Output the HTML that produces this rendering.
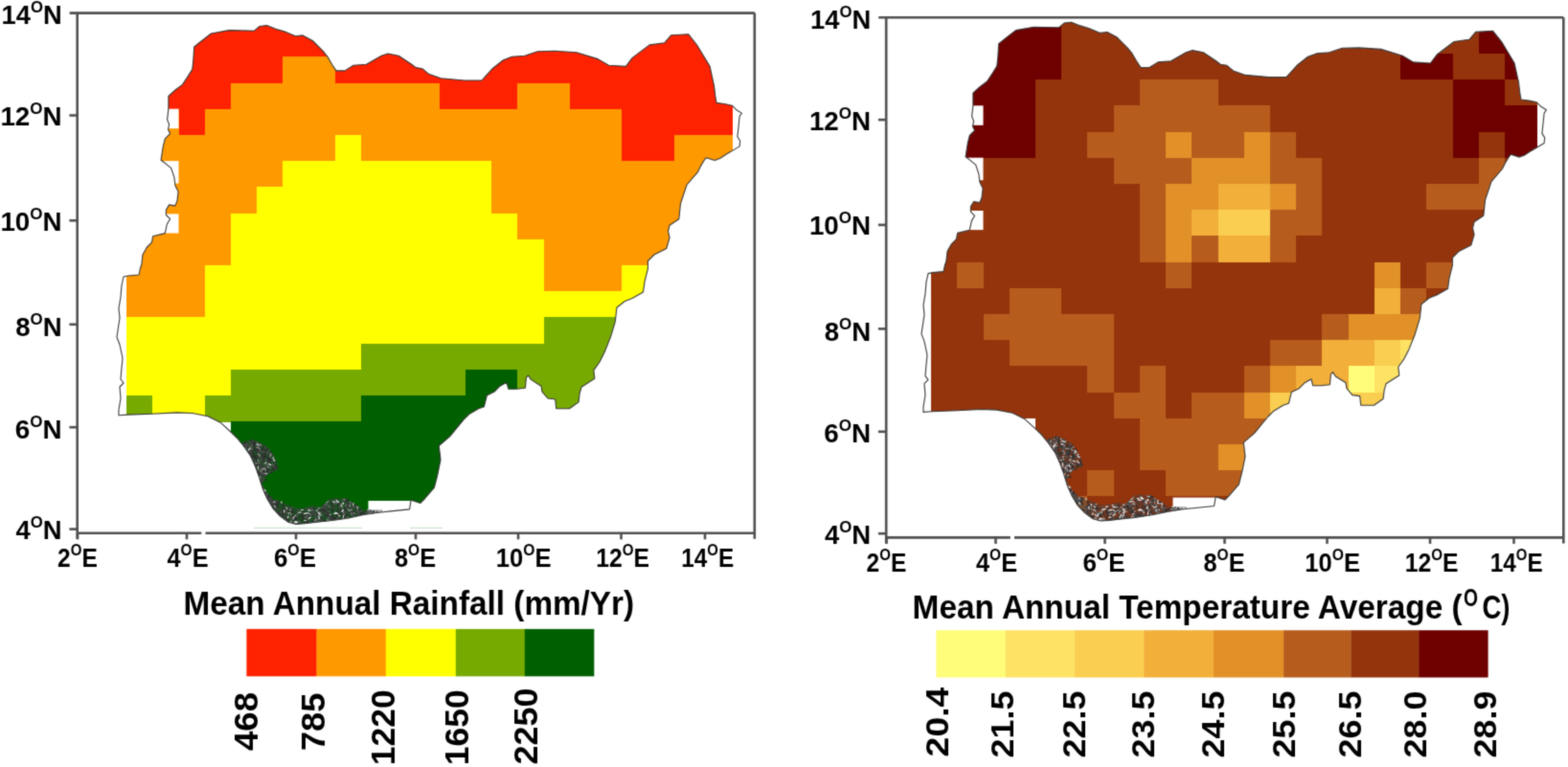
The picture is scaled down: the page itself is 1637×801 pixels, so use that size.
<!DOCTYPE html>
<html><head><meta charset="utf-8"><title>Nigeria rainfall and temperature maps</title>
<style>html,body{margin:0;padding:0;background:#fff;}svg{display:block;}</style>
</head><body>
<svg width="1637" height="801" viewBox="0 0 1637 801">
<filter id="soft" x="0" y="0" width="1637" height="801" filterUnits="userSpaceOnUse" color-interpolation-filters="sRGB"><feConvolveMatrix order="3" kernelMatrix="0.0277 0.1110 0.0277 0.1110 0.4452 0.1110 0.0277 0.1110 0.0277" edgeMode="duplicate" preserveAlpha="true"/></filter>
<g filter="url(#soft)"><rect width="1637" height="801" fill="#fff"/>
<defs><clipPath id="clipN"><polygon points="124,433.8 124,428 126,416 125,404 129,400 126,396 127,384 128,374 125,360 122,352 125,332 124,322 126,310 127,298 129,289 134,288 145,287 146.5,280 147.9,276 149,265.9 153.2,258.5 158.5,253.1 159.6,246.8 172.3,243.6 174.4,234 177.6,228.7 173.4,224.5 173.4,219.2 176.6,213.9 182.9,214.9 185,209.6 186.1,200.1 182.9,193.7 181.9,185.2 178.7,175.6 172.3,170.3 168.1,167.2 170.2,153.4 172.3,144.9 177.6,139.6 175.5,135.3 176.6,130 174.6,124.9 175.9,113.6 175.9,100.5 183,94 190.5,88.4 196.1,79.9 200.8,72.4 201.8,63.1 202.7,49 212.1,41.5 220.5,35 239.2,31.6 265.4,32.2 271,27.5 278.5,26.6 287.9,30.3 297.3,33.1 308.5,37.8 316,36.9 326.3,42.5 337.5,53.7 342,59.3 346.5,67.2 351,73.9 360,73.9 369,68.3 382.5,67.2 398.2,58.2 405,56 416.2,58.2 429.7,67.2 434.2,70.6 440.9,71.7 447.6,77.3 460.2,81.8 484.9,84 502.9,84 514.1,71.7 525.4,62.7 534.4,59.3 547.8,58.2 561.3,53.7 579.3,53.3 601.8,54.8 624.2,61.6 635.5,68.3 653.4,69.4 660.2,60.4 678.1,46.9 693.9,44.7 700.6,36.8 718.6,35.7 727.6,47 741.1,69.4 745.5,89.6 746.9,101.2 748,107.4 756.4,108.5 764.3,110.2 768.8,114.7 774.4,118.1 772.1,121.5 771,132.7 769.9,142.8 772.7,147.3 772.1,152.9 765.4,156.9 758.7,160.8 751.9,165.3 746.3,167.5 737.3,164.7 735.1,167.5 731.7,173.1 728.3,179.9 717,193 710.5,212.5 708.8,228.7 699.1,235.2 697.5,241.7 699.1,248.2 695.8,259.5 682.9,266 676.4,272.5 676.4,280.6 673.1,293.6 671.5,305 660.1,311.5 652,314.7 643.9,321.2 642.3,335.8 637.4,352.1 630.9,368.3 626,378 619.8,386.6 620.8,395.4 607,404.2 605.1,411 604.1,419.9 594.4,426.7 580.7,426.7 579.7,417 571.9,416 566,409.1 565,403.2 554.3,396.4 551.4,392 549.4,394.4 548.4,405.2 538.7,406.2 530.8,406.2 528.9,399.3 522,403.2 516.2,409.1 508.3,413 505.4,424.7 499.6,426.7 489.8,432.6 483.9,438.4 469.6,455.8 458.3,465.5 460,480.1 456.7,496.3 453.4,509.2 443.7,520.5 438.9,525.4 429.2,522.2 427.5,531.9 410,533.6 395.2,535.2 380,537.5 362.8,541.2 345,543.8 330.4,545.3 318,546.8 309,547.4 301,545.2 292.5,539 285,531 279,521 274.5,511 270.5,498 266.5,487 261.5,476 254.5,466 247.5,457.5 241.4,451.5 230.1,441.2 217.1,434.7 200.9,431.5 184.7,430.9 158.8,432.2 133,433.1"/></clipPath></defs>
<g><g clip-path="url(#clipN)">
<g shape-rendering="crispEdges"><rect x="132.1" y="4.9" width="633.1" height="27.6" fill="#ff2200"/>
<rect x="132.1" y="32.1" width="633.1" height="27.6" fill="#ff2200"/>
<rect x="132.1" y="59.3" width="163.7" height="27.6" fill="#ff2200"/>
<rect x="295.4" y="59.3" width="54.8" height="27.6" fill="#ff9900"/>
<rect x="349.8" y="59.3" width="415.4" height="27.6" fill="#ff2200"/>
<rect x="132.1" y="86.5" width="109.3" height="27.6" fill="#ff2200"/>
<rect x="240.9" y="86.5" width="218.2" height="27.6" fill="#ff9900"/>
<rect x="458.7" y="86.5" width="82.1" height="27.6" fill="#ff2200"/>
<rect x="540.4" y="86.5" width="54.8" height="27.6" fill="#ff9900"/>
<rect x="594.8" y="86.5" width="170.4" height="27.6" fill="#ff2200"/>
<rect x="132.1" y="113.7" width="54.8" height="27.6" fill="#ff9900"/>
<rect x="186.5" y="113.7" width="27.6" height="27.6" fill="#ff2200"/>
<rect x="213.7" y="113.7" width="435.9" height="27.6" fill="#ff9900"/>
<rect x="649.2" y="113.7" width="116" height="27.6" fill="#ff2200"/>
<rect x="132.1" y="140.9" width="218.2" height="27.6" fill="#ff9900"/>
<rect x="349.8" y="140.9" width="27.6" height="27.6" fill="#ffff00"/>
<rect x="377" y="140.9" width="272.6" height="27.6" fill="#ff9900"/>
<rect x="649.2" y="140.9" width="54.8" height="27.6" fill="#ff2200"/>
<rect x="703.7" y="140.9" width="61.5" height="27.6" fill="#ff9900"/>
<rect x="132.1" y="168.1" width="163.7" height="27.6" fill="#ff9900"/>
<rect x="295.4" y="168.1" width="218.2" height="27.6" fill="#ffff00"/>
<rect x="513.1" y="168.1" width="252.1" height="27.6" fill="#ff9900"/>
<rect x="132.1" y="195.3" width="136.5" height="27.6" fill="#ff9900"/>
<rect x="268.2" y="195.3" width="245.4" height="27.6" fill="#ffff00"/>
<rect x="513.1" y="195.3" width="252.1" height="27.6" fill="#ff9900"/>
<rect x="132.1" y="222.5" width="109.3" height="27.6" fill="#ff9900"/>
<rect x="240.9" y="222.5" width="299.8" height="27.6" fill="#ffff00"/>
<rect x="540.4" y="222.5" width="224.8" height="27.6" fill="#ff9900"/>
<rect x="132.1" y="249.7" width="109.3" height="27.6" fill="#ff9900"/>
<rect x="240.9" y="249.7" width="327" height="27.6" fill="#ffff00"/>
<rect x="567.6" y="249.7" width="197.6" height="27.6" fill="#ff9900"/>
<rect x="132.1" y="276.9" width="82.1" height="27.6" fill="#ff9900"/>
<rect x="213.7" y="276.9" width="354.3" height="27.6" fill="#ffff00"/>
<rect x="567.6" y="276.9" width="82.1" height="27.6" fill="#ff9900"/>
<rect x="649.2" y="276.9" width="116" height="27.6" fill="#ffff00"/>
<rect x="132.1" y="304.1" width="82.1" height="27.6" fill="#ff9900"/>
<rect x="213.7" y="304.1" width="551.5" height="27.6" fill="#ffff00"/>
<rect x="132.1" y="331.3" width="435.9" height="27.6" fill="#ffff00"/>
<rect x="567.6" y="331.3" width="197.6" height="27.6" fill="#77aa00"/>
<rect x="132.1" y="358.5" width="245.4" height="27.6" fill="#ffff00"/>
<rect x="377" y="358.5" width="388.2" height="27.6" fill="#77aa00"/>
<rect x="132.1" y="385.7" width="109.3" height="27.6" fill="#ffff00"/>
<rect x="240.9" y="385.7" width="245.4" height="27.6" fill="#77aa00"/>
<rect x="485.9" y="385.7" width="54.8" height="27.6" fill="#006000"/>
<rect x="540.4" y="385.7" width="224.8" height="27.6" fill="#77aa00"/>
<rect x="132.1" y="412.9" width="27.6" height="27.6" fill="#77aa00"/>
<rect x="159.3" y="412.9" width="54.8" height="27.6" fill="#ffff00"/>
<rect x="213.7" y="412.9" width="163.7" height="27.6" fill="#77aa00"/>
<rect x="377" y="412.9" width="163.7" height="27.6" fill="#006000"/>
<rect x="540.4" y="412.9" width="224.8" height="27.6" fill="#77aa00"/>
<rect x="240.9" y="440.1" width="524.3" height="27.6" fill="#006000"/>
<rect x="240.9" y="467.3" width="524.3" height="27.6" fill="#006000"/>
<rect x="240.9" y="494.5" width="524.3" height="27.6" fill="#006000"/>
<rect x="240.9" y="521.7" width="524.3" height="27.6" fill="#006000"/></g>
<rect x="159.3" y="113.7" width="27.2" height="20.5" fill="#fff"/>
<rect x="159.3" y="168.1" width="27.2" height="23.5" fill="#fff"/>
<rect x="159.3" y="223.4" width="27.2" height="20.1" fill="#fff"/>
<rect x="384.5" y="523" width="44.5" height="20" fill="#fff"/>
<g><polygon points="254,461 264.5,458.5 279.4,466.5 287,477 289.5,488 285.4,493.5 278,496 275.5,504 271,504 266,490 259,477 252,465" fill="#3b3f44" fill-opacity="0.55"/><polygon points="270,498 276,510 283,521 290,526 286,530 279,522 273,511" fill="#3b3f44" fill-opacity="0.55"/><polygon points="276,512 285,521 293,523.5 305,529.5 314,531 326,528 335,529.5 344,520.5 362,520.5 371,526.5 380,532.5 399,532.5 399,537 370,542 340,545.5 311,548 300,546 288,536 280,525" fill="#3b3f44" fill-opacity="0.55"/></g><g stroke-width="1.2" stroke-linecap="round"><line x1="264.1" y1="465.4" x2="263.6" y2="466.4" stroke="#404040"/><line x1="265.7" y1="461.1" x2="265.7" y2="462.2" stroke="#404040"/><line x1="254.6" y1="462.6" x2="255.3" y2="465.6" stroke="#262626"/><line x1="287.5" y1="484.8" x2="288.6" y2="488" stroke="#262626"/><line x1="257.4" y1="463.9" x2="259.1" y2="466.4" stroke="#262626"/><line x1="273.8" y1="487.6" x2="274.7" y2="489.8" stroke="#262626"/><line x1="254.2" y1="467.9" x2="253.1" y2="469.6" stroke="#333333"/><line x1="274" y1="479.1" x2="275.7" y2="481.5" stroke="#5a5a5a"/><line x1="271.7" y1="498.3" x2="270.6" y2="499.6" stroke="#f0f0f0"/><line x1="277.1" y1="493.3" x2="276.3" y2="496.4" stroke="#333333"/><line x1="278.1" y1="485.5" x2="277.5" y2="487.6" stroke="#9a9a9a"/><line x1="287.4" y1="480.1" x2="286.9" y2="481.1" stroke="#5a5a5a"/><line x1="282.8" y1="471.4" x2="283.8" y2="474" stroke="#262626"/><line x1="269.3" y1="466.1" x2="270.4" y2="466.6" stroke="#5a5a5a"/><line x1="256.9" y1="469.8" x2="257.9" y2="472.8" stroke="#262626"/><line x1="268.8" y1="483.5" x2="266" y2="484.6" stroke="#9a9a9a"/><line x1="262.4" y1="477.4" x2="263.8" y2="480.3" stroke="#f0f0f0"/><line x1="257.7" y1="466.5" x2="258.8" y2="467.6" stroke="#404040"/><line x1="274.1" y1="470.5" x2="276.1" y2="470.5" stroke="#333333"/><line x1="273.2" y1="501.9" x2="271.9" y2="503.8" stroke="#4d4d4d"/><line x1="266.7" y1="476.7" x2="269.2" y2="477.5" stroke="#262626"/><line x1="254.5" y1="468" x2="256.1" y2="468.9" stroke="#262626"/><line x1="275" y1="465.3" x2="276.3" y2="466.6" stroke="#333333"/><line x1="270.1" y1="462.4" x2="271.9" y2="463" stroke="#333333"/><line x1="271.8" y1="465.2" x2="271.7" y2="466.2" stroke="#404040"/><line x1="278.1" y1="470.4" x2="278.7" y2="471.7" stroke="#5a5a5a"/><line x1="272" y1="493.9" x2="272.8" y2="495.3" stroke="#5a5a5a"/><line x1="279.7" y1="468.8" x2="279.6" y2="470.7" stroke="#262626"/><line x1="260.3" y1="468.8" x2="261.5" y2="469.7" stroke="#4d4d4d"/><line x1="270" y1="488.2" x2="269" y2="488.9" stroke="#4d4d4d"/><line x1="280.1" y1="480.3" x2="282.6" y2="481.8" stroke="#333333"/><line x1="266.8" y1="476.8" x2="264.1" y2="477.2" stroke="#262626"/><line x1="256.8" y1="465.4" x2="253.9" y2="466.3" stroke="#262626"/><line x1="276.6" y1="474.4" x2="276.4" y2="475.8" stroke="#262626"/><line x1="288.4" y1="488.1" x2="288.1" y2="491.4" stroke="#404040"/><line x1="259.9" y1="470" x2="260.9" y2="471.2" stroke="#4d4d4d"/><line x1="261.7" y1="477.6" x2="264.7" y2="478.9" stroke="#333333"/><line x1="269.2" y1="485" x2="267.2" y2="485.6" stroke="#d0d0d0"/><line x1="270.8" y1="482.7" x2="270.7" y2="483.7" stroke="#404040"/><line x1="269.8" y1="491.5" x2="269.4" y2="493.3" stroke="#404040"/><line x1="272.8" y1="494.2" x2="275.1" y2="495" stroke="#333333"/><line x1="271" y1="484.1" x2="268.6" y2="486.3" stroke="#404040"/><line x1="275" y1="481.5" x2="274.9" y2="484.2" stroke="#404040"/><line x1="272" y1="480.3" x2="269.3" y2="480.8" stroke="#d0d0d0"/><line x1="273" y1="501.4" x2="271.8" y2="502.1" stroke="#262626"/><line x1="268.6" y1="461.8" x2="269.4" y2="462.6" stroke="#4d4d4d"/><line x1="266.9" y1="480.7" x2="263.9" y2="480.8" stroke="#262626"/><line x1="268.2" y1="482" x2="268.9" y2="483.3" stroke="#333333"/><line x1="272.8" y1="478.5" x2="274.6" y2="478.6" stroke="#4d4d4d"/><line x1="262" y1="460.3" x2="260.7" y2="461.4" stroke="#262626"/><line x1="273.4" y1="490.4" x2="274.5" y2="490.7" stroke="#5a5a5a"/><line x1="267.9" y1="461.8" x2="265.4" y2="462.3" stroke="#5a5a5a"/><line x1="269" y1="473.9" x2="268.5" y2="477.2" stroke="#333333"/><line x1="260.9" y1="463.5" x2="261.9" y2="464" stroke="#333333"/><line x1="263.7" y1="472.4" x2="262.4" y2="473.6" stroke="#404040"/><line x1="258.7" y1="474.3" x2="260.3" y2="474.4" stroke="#262626"/><line x1="279.5" y1="483.6" x2="281.3" y2="484.8" stroke="#d0d0d0"/><line x1="268.2" y1="481" x2="266.5" y2="482" stroke="#404040"/><line x1="278.5" y1="487.4" x2="279.1" y2="489.2" stroke="#262626"/><line x1="256.9" y1="461.7" x2="255.7" y2="462.9" stroke="#262626"/><line x1="284.6" y1="489" x2="285.7" y2="490.3" stroke="#333333"/><line x1="269.2" y1="465.7" x2="269.5" y2="467.3" stroke="#f0f0f0"/><line x1="263.6" y1="474.7" x2="265.6" y2="474.7" stroke="#404040"/><line x1="270.9" y1="467.6" x2="270.8" y2="468.7" stroke="#333333"/><line x1="263.4" y1="469.1" x2="262.8" y2="471.3" stroke="#5a5a5a"/><line x1="276.7" y1="491.1" x2="274.8" y2="491.8" stroke="#333333"/><line x1="279.2" y1="487.8" x2="282.2" y2="488.2" stroke="#d0d0d0"/><line x1="275.5" y1="491.9" x2="274.4" y2="492.6" stroke="#404040"/><line x1="270.9" y1="496.5" x2="268.4" y2="498.3" stroke="#4d4d4d"/><line x1="285.5" y1="489.6" x2="284.6" y2="490.9" stroke="#262626"/><line x1="272.9" y1="487.1" x2="271.9" y2="489.6" stroke="#404040"/><line x1="280.1" y1="481.4" x2="279.8" y2="484" stroke="#262626"/><line x1="279.6" y1="470" x2="281.2" y2="470.4" stroke="#5a5a5a"/><line x1="266.3" y1="480.3" x2="264.8" y2="482.7" stroke="#4d4d4d"/><line x1="257.5" y1="470.1" x2="256.3" y2="471.3" stroke="#4d4d4d"/><line x1="278" y1="489.2" x2="279.4" y2="491.1" stroke="#404040"/><line x1="269.5" y1="463.9" x2="268.1" y2="464.4" stroke="#f0f0f0"/><line x1="269.2" y1="495.8" x2="267.1" y2="496" stroke="#333333"/><line x1="282.8" y1="481.6" x2="280.2" y2="482.6" stroke="#333333"/><line x1="285.7" y1="480.6" x2="286.7" y2="480.7" stroke="#404040"/><line x1="268.9" y1="472.2" x2="270.6" y2="473" stroke="#333333"/><line x1="262.9" y1="475.4" x2="264" y2="478.7" stroke="#4d4d4d"/><line x1="265.5" y1="478" x2="266.3" y2="478.8" stroke="#262626"/><line x1="262" y1="481.7" x2="263.6" y2="482.8" stroke="#f0f0f0"/><line x1="275.7" y1="500.1" x2="273.3" y2="500.5" stroke="#5a5a5a"/><line x1="268.9" y1="492.7" x2="268.2" y2="494.3" stroke="#262626"/><line x1="269.7" y1="474.1" x2="271.4" y2="476.4" stroke="#f0f0f0"/><line x1="263.3" y1="483.9" x2="263.7" y2="485.2" stroke="#262626"/><line x1="270.6" y1="468.5" x2="267.3" y2="469.5" stroke="#404040"/><line x1="257.2" y1="467.3" x2="259" y2="467.8" stroke="#262626"/><line x1="261" y1="470.3" x2="260.3" y2="473.4" stroke="#5a5a5a"/><line x1="267.5" y1="477.3" x2="267.3" y2="479.3" stroke="#333333"/><line x1="270.9" y1="487.1" x2="269.5" y2="487.8" stroke="#333333"/><line x1="261.3" y1="476.7" x2="261.9" y2="480" stroke="#9a9a9a"/><line x1="285.6" y1="480" x2="285.3" y2="481" stroke="#404040"/><line x1="261.3" y1="463.5" x2="263.4" y2="464.5" stroke="#4d4d4d"/><line x1="276.3" y1="493.3" x2="276.6" y2="495.7" stroke="#262626"/><line x1="286.5" y1="487.9" x2="287.3" y2="488.9" stroke="#333333"/><line x1="275.9" y1="490.3" x2="277" y2="490.7" stroke="#404040"/><line x1="273.9" y1="476.2" x2="275.8" y2="477.8" stroke="#262626"/><line x1="263.3" y1="479.5" x2="260.7" y2="479.8" stroke="#d0d0d0"/><line x1="269.8" y1="469.2" x2="272.3" y2="471.6" stroke="#5a5a5a"/><line x1="263.5" y1="459.5" x2="263.5" y2="462.2" stroke="#404040"/><line x1="267.8" y1="489.6" x2="270.2" y2="491.3" stroke="#5a5a5a"/><line x1="270.9" y1="467.8" x2="269.2" y2="468" stroke="#9a9a9a"/><line x1="260.7" y1="468.6" x2="259.4" y2="469.8" stroke="#f0f0f0"/><line x1="270.6" y1="467" x2="272.2" y2="468.3" stroke="#4d4d4d"/><line x1="266.8" y1="468.2" x2="265.4" y2="468.3" stroke="#262626"/><line x1="276.9" y1="475.7" x2="277.6" y2="477.4" stroke="#262626"/><line x1="259.8" y1="474.7" x2="257.2" y2="476.4" stroke="#404040"/><line x1="259.2" y1="475.1" x2="258.2" y2="475.4" stroke="#404040"/><line x1="282.4" y1="493.4" x2="283.5" y2="493.5" stroke="#262626"/><line x1="264.7" y1="470.9" x2="262.2" y2="471.2" stroke="#333333"/><line x1="278.9" y1="472.9" x2="279.5" y2="473.7" stroke="#5a5a5a"/><line x1="286.4" y1="487.3" x2="285.3" y2="487.5" stroke="#333333"/><line x1="261.4" y1="478.1" x2="261.5" y2="481.4" stroke="#262626"/><line x1="282.1" y1="492.1" x2="279.6" y2="493.7" stroke="#4d4d4d"/><line x1="264.3" y1="473" x2="265.5" y2="475.7" stroke="#262626"/><line x1="261.3" y1="461.4" x2="263.6" y2="461.7" stroke="#333333"/><line x1="255.2" y1="462.9" x2="255.2" y2="465.7" stroke="#404040"/><line x1="260.8" y1="477.5" x2="259.8" y2="480" stroke="#5a5a5a"/><line x1="283.8" y1="488.7" x2="286.6" y2="489.9" stroke="#333333"/><line x1="273.3" y1="475.5" x2="272.2" y2="476.6" stroke="#333333"/><line x1="261.2" y1="465.5" x2="258.9" y2="466.3" stroke="#333333"/><line x1="271" y1="469" x2="268.9" y2="470.5" stroke="#f0f0f0"/><line x1="263" y1="463.9" x2="265.9" y2="465.8" stroke="#4d4d4d"/><line x1="284.5" y1="478.9" x2="286.5" y2="481.1" stroke="#f0f0f0"/><line x1="275.2" y1="468.4" x2="275.8" y2="469.6" stroke="#333333"/><line x1="276.4" y1="467.8" x2="278.3" y2="467.8" stroke="#4d4d4d"/><line x1="258.9" y1="472.7" x2="261.3" y2="474.5" stroke="#404040"/><line x1="254.4" y1="463.1" x2="255.1" y2="465.4" stroke="#4d4d4d"/><line x1="255.4" y1="465.9" x2="254.3" y2="467.6" stroke="#333333"/><line x1="263.7" y1="484.3" x2="264.6" y2="486.1" stroke="#9a9a9a"/><line x1="285.8" y1="477.8" x2="284.1" y2="478.9" stroke="#d0d0d0"/><line x1="269.3" y1="465.9" x2="271.7" y2="466" stroke="#4d4d4d"/><line x1="275.3" y1="475.4" x2="275.3" y2="476.7" stroke="#333333"/><line x1="271.5" y1="500.6" x2="273.6" y2="501.4" stroke="#5a5a5a"/><line x1="275.3" y1="496" x2="277.9" y2="497.4" stroke="#333333"/><line x1="260.2" y1="476.7" x2="260.1" y2="478.6" stroke="#262626"/><line x1="273.1" y1="493" x2="276.2" y2="493.3" stroke="#262626"/><line x1="274.5" y1="483.5" x2="273.8" y2="485.2" stroke="#404040"/><line x1="273.8" y1="477.9" x2="272.8" y2="479.7" stroke="#404040"/><line x1="270.4" y1="469.2" x2="268.2" y2="471.2" stroke="#404040"/><line x1="256" y1="464.3" x2="256.3" y2="465.5" stroke="#404040"/><line x1="279.5" y1="493.9" x2="279.5" y2="495" stroke="#404040"/><line x1="261.9" y1="481.5" x2="262.4" y2="482.4" stroke="#262626"/><line x1="275.9" y1="474.9" x2="273.7" y2="475.8" stroke="#4d4d4d"/><line x1="289.2" y1="487.2" x2="290.2" y2="490" stroke="#333333"/><line x1="268.6" y1="466.5" x2="267.8" y2="467.4" stroke="#9a9a9a"/><line x1="276.9" y1="472.7" x2="278" y2="472.7" stroke="#262626"/><line x1="275.1" y1="478.2" x2="275" y2="481.4" stroke="#262626"/><line x1="265.3" y1="463.3" x2="266" y2="464.7" stroke="#4d4d4d"/><line x1="274.1" y1="467.8" x2="273.3" y2="469.8" stroke="#262626"/><line x1="257.6" y1="462.9" x2="256.3" y2="465.7" stroke="#5a5a5a"/><line x1="267.1" y1="470.5" x2="269.7" y2="470.6" stroke="#404040"/><line x1="265.1" y1="487.9" x2="265.7" y2="491.2" stroke="#5a5a5a"/><line x1="267.2" y1="469.3" x2="270.1" y2="469.9" stroke="#262626"/><line x1="272.7" y1="501.3" x2="274" y2="502" stroke="#4d4d4d"/><line x1="271" y1="487.7" x2="269.8" y2="488.5" stroke="#333333"/><line x1="263.3" y1="460.7" x2="260.5" y2="461.7" stroke="#5a5a5a"/><line x1="279.9" y1="479.7" x2="278.5" y2="481.2" stroke="#333333"/><line x1="255.9" y1="469.1" x2="257.8" y2="469.3" stroke="#5a5a5a"/><line x1="278.7" y1="470.6" x2="278.3" y2="472.7" stroke="#5a5a5a"/><line x1="271.6" y1="470.6" x2="270.1" y2="473.6" stroke="#333333"/><line x1="261.8" y1="469.2" x2="259.4" y2="471.7" stroke="#5a5a5a"/><line x1="264.3" y1="469.4" x2="261.9" y2="470.1" stroke="#5a5a5a"/><line x1="269.6" y1="496.7" x2="267.8" y2="499.3" stroke="#404040"/><line x1="279.2" y1="484.5" x2="280" y2="485.7" stroke="#4d4d4d"/><line x1="264.9" y1="465" x2="266" y2="465.1" stroke="#5a5a5a"/><line x1="275.8" y1="490.2" x2="275" y2="491.1" stroke="#4d4d4d"/><line x1="256" y1="467.9" x2="257" y2="468.2" stroke="#9a9a9a"/><line x1="282.5" y1="487.4" x2="280.3" y2="488.7" stroke="#333333"/><line x1="255.7" y1="463" x2="254.7" y2="464" stroke="#333333"/><line x1="261.6" y1="471.4" x2="260.4" y2="472.9" stroke="#333333"/><line x1="283.9" y1="486.6" x2="285.9" y2="486.8" stroke="#404040"/><line x1="281" y1="474.3" x2="279.6" y2="476.2" stroke="#333333"/><line x1="270.4" y1="494.8" x2="272.3" y2="496" stroke="#333333"/><line x1="270.7" y1="463.5" x2="270.2" y2="464.6" stroke="#5a5a5a"/><line x1="278.1" y1="494.3" x2="277.4" y2="496" stroke="#404040"/><line x1="270.8" y1="475.8" x2="269.3" y2="476.3" stroke="#404040"/><line x1="271.9" y1="492.8" x2="270.1" y2="494.7" stroke="#333333"/><line x1="264.2" y1="465.6" x2="261.9" y2="466.8" stroke="#5a5a5a"/><line x1="281" y1="484.9" x2="283" y2="485.7" stroke="#d0d0d0"/><line x1="260.9" y1="467.2" x2="262.5" y2="469.5" stroke="#9a9a9a"/><line x1="257.8" y1="465.6" x2="259.1" y2="466.9" stroke="#404040"/><line x1="258" y1="473.4" x2="260.9" y2="475.4" stroke="#5a5a5a"/><line x1="279.5" y1="478.3" x2="281.6" y2="479.8" stroke="#262626"/><line x1="259.7" y1="476.2" x2="261.7" y2="476.4" stroke="#5a5a5a"/><line x1="278" y1="481.3" x2="277.1" y2="483.2" stroke="#262626"/><line x1="274.6" y1="476.9" x2="272.4" y2="479.3" stroke="#404040"/><line x1="273.5" y1="492.6" x2="273.9" y2="494.1" stroke="#5a5a5a"/><line x1="277.5" y1="487.7" x2="277.7" y2="489.5" stroke="#4d4d4d"/><line x1="281.3" y1="490.9" x2="280.7" y2="492.4" stroke="#404040"/><line x1="269.1" y1="486.8" x2="269.8" y2="489.4" stroke="#d0d0d0"/><line x1="281.2" y1="476.2" x2="281.3" y2="479.6" stroke="#262626"/><line x1="272.4" y1="465.8" x2="269.8" y2="467.9" stroke="#404040"/><line x1="272.3" y1="491.1" x2="272.2" y2="493.7" stroke="#9a9a9a"/><line x1="271.6" y1="477.2" x2="270.1" y2="477.4" stroke="#4d4d4d"/><line x1="265.3" y1="461.1" x2="266.6" y2="462.6" stroke="#262626"/><line x1="267.7" y1="477.6" x2="266.6" y2="479.2" stroke="#333333"/><line x1="287.2" y1="482.5" x2="289.6" y2="484.4" stroke="#404040"/><line x1="260" y1="464.4" x2="257.6" y2="466.3" stroke="#4d4d4d"/><line x1="269.6" y1="484.1" x2="272.2" y2="486.3" stroke="#333333"/><line x1="276" y1="495.8" x2="274.1" y2="496.9" stroke="#333333"/><line x1="272.6" y1="464.2" x2="270.9" y2="465.1" stroke="#9a9a9a"/><line x1="262" y1="475.6" x2="263.5" y2="477.1" stroke="#262626"/><line x1="262.5" y1="469.6" x2="263.8" y2="471.4" stroke="#404040"/><line x1="275.9" y1="488.5" x2="277.3" y2="491.5" stroke="#9a9a9a"/><line x1="276.6" y1="469.9" x2="277.9" y2="470.3" stroke="#333333"/><line x1="281.1" y1="474.3" x2="284" y2="475.8" stroke="#5a5a5a"/><line x1="274.8" y1="494" x2="273.2" y2="496.8" stroke="#5a5a5a"/><line x1="278" y1="482.7" x2="276.5" y2="484.2" stroke="#d0d0d0"/><line x1="272.8" y1="470.5" x2="273.8" y2="471.4" stroke="#404040"/><line x1="270.7" y1="483" x2="269.8" y2="483.5" stroke="#9a9a9a"/><line x1="269.5" y1="484.1" x2="268" y2="486.8" stroke="#333333"/><line x1="274.9" y1="489.6" x2="273.1" y2="489.9" stroke="#f0f0f0"/><line x1="271.1" y1="480.6" x2="270.1" y2="480.9" stroke="#5a5a5a"/><line x1="275.4" y1="473.9" x2="273.7" y2="474.7" stroke="#404040"/><line x1="271.7" y1="493.6" x2="273.4" y2="494.8" stroke="#404040"/><line x1="272.8" y1="496.1" x2="274.6" y2="498.6" stroke="#404040"/><line x1="270.9" y1="470.9" x2="270.8" y2="474.3" stroke="#4d4d4d"/><line x1="281.7" y1="473.6" x2="282.6" y2="475" stroke="#4d4d4d"/><line x1="275.8" y1="494.2" x2="278.6" y2="494.5" stroke="#d0d0d0"/><line x1="274.8" y1="488.4" x2="272.2" y2="490.5" stroke="#4d4d4d"/><line x1="275.1" y1="487" x2="273.7" y2="489.1" stroke="#4d4d4d"/><line x1="269.2" y1="493.2" x2="270.6" y2="493.7" stroke="#262626"/><line x1="276.6" y1="475.3" x2="274.1" y2="476.9" stroke="#404040"/><line x1="261.7" y1="472.2" x2="262.1" y2="474" stroke="#404040"/><line x1="276.1" y1="501" x2="278.4" y2="501.4" stroke="#262626"/><line x1="273.6" y1="500.3" x2="273.7" y2="501.3" stroke="#404040"/><line x1="274.2" y1="501.2" x2="272" y2="501.3" stroke="#404040"/><line x1="260" y1="465.4" x2="261" y2="465.5" stroke="#4d4d4d"/><line x1="279" y1="469.5" x2="278" y2="470.6" stroke="#262626"/><line x1="281" y1="491" x2="278.5" y2="492.2" stroke="#262626"/><line x1="275.6" y1="490.8" x2="276" y2="494.1" stroke="#333333"/><line x1="276.4" y1="495.7" x2="278.1" y2="496.1" stroke="#5a5a5a"/><line x1="265.8" y1="484.7" x2="266.3" y2="487.3" stroke="#262626"/><line x1="281.9" y1="475" x2="280.8" y2="477.3" stroke="#404040"/><line x1="273.3" y1="471.8" x2="276.6" y2="472.5" stroke="#5a5a5a"/><line x1="283" y1="473.6" x2="281.9" y2="476.9" stroke="#9a9a9a"/><line x1="274.5" y1="472.5" x2="275.3" y2="475.7" stroke="#404040"/><line x1="277.7" y1="485.9" x2="274.8" y2="486.8" stroke="#333333"/><line x1="267.8" y1="485.2" x2="265.1" y2="487" stroke="#262626"/><line x1="284.5" y1="484.5" x2="286.6" y2="486.9" stroke="#5a5a5a"/><line x1="265" y1="462.4" x2="264.5" y2="465.3" stroke="#333333"/><line x1="277.4" y1="479.7" x2="278.7" y2="480.7" stroke="#5a5a5a"/><line x1="281.7" y1="479.4" x2="284.6" y2="480.2" stroke="#5a5a5a"/><line x1="271.6" y1="480.2" x2="271.2" y2="481.6" stroke="#333333"/><line x1="265.6" y1="484.2" x2="266.3" y2="486.4" stroke="#262626"/><line x1="266" y1="463.3" x2="264.8" y2="466" stroke="#262626"/><line x1="274.4" y1="474.2" x2="274.3" y2="475.2" stroke="#262626"/><line x1="270.2" y1="484.3" x2="272.2" y2="486.5" stroke="#404040"/><line x1="261.5" y1="460.2" x2="262.7" y2="461.1" stroke="#262626"/><line x1="284.7" y1="479.4" x2="281.4" y2="479.9" stroke="#262626"/><line x1="274.4" y1="476.6" x2="277.6" y2="477.8" stroke="#333333"/><line x1="273.2" y1="487.6" x2="270.5" y2="488" stroke="#404040"/><line x1="268.8" y1="465.8" x2="265.4" y2="466.1" stroke="#333333"/><line x1="278.6" y1="487.9" x2="277.5" y2="488" stroke="#262626"/><line x1="277.4" y1="472.1" x2="276.6" y2="474.9" stroke="#262626"/><line x1="264.1" y1="470.2" x2="266.2" y2="471" stroke="#262626"/><line x1="287.3" y1="526.4" x2="289.3" y2="527.3" stroke="#262626"/><line x1="279.6" y1="518.1" x2="281" y2="518.8" stroke="#262626"/><line x1="275.3" y1="511.2" x2="276.8" y2="512" stroke="#9a9a9a"/><line x1="274" y1="509.7" x2="270.5" y2="509.8" stroke="#d0d0d0"/><line x1="273.7" y1="511.9" x2="272.2" y2="512.3" stroke="#4d4d4d"/><line x1="272.8" y1="503.8" x2="270.7" y2="505.6" stroke="#333333"/><line x1="282.2" y1="520.6" x2="280.2" y2="522" stroke="#333333"/><line x1="273.3" y1="509.9" x2="273" y2="510.8" stroke="#404040"/><line x1="286.3" y1="525.7" x2="287.8" y2="528" stroke="#404040"/><line x1="287.5" y1="528.5" x2="287.5" y2="530.8" stroke="#404040"/><line x1="286.5" y1="528" x2="287.2" y2="529.9" stroke="#9a9a9a"/><line x1="276.7" y1="511.9" x2="273.7" y2="512.1" stroke="#d0d0d0"/><line x1="286.3" y1="525.1" x2="288.6" y2="525.5" stroke="#f0f0f0"/><line x1="278.4" y1="518.2" x2="279.4" y2="520.4" stroke="#262626"/><line x1="286.2" y1="526.3" x2="285.2" y2="526.7" stroke="#4d4d4d"/><line x1="275.5" y1="515.4" x2="273" y2="516" stroke="#333333"/><line x1="275.4" y1="512.9" x2="275.2" y2="514.3" stroke="#262626"/><line x1="272.6" y1="507.4" x2="273.1" y2="509" stroke="#333333"/><line x1="281.4" y1="518.8" x2="283.6" y2="520.5" stroke="#404040"/><line x1="287" y1="524.3" x2="286.8" y2="527.1" stroke="#5a5a5a"/><line x1="285.7" y1="525.9" x2="285" y2="527.8" stroke="#404040"/><line x1="279.2" y1="521.1" x2="280.4" y2="522.7" stroke="#404040"/><line x1="285.7" y1="525.2" x2="285.7" y2="527.3" stroke="#262626"/><line x1="286.8" y1="528.7" x2="288.4" y2="529.9" stroke="#d0d0d0"/><line x1="277.2" y1="517" x2="278.7" y2="520" stroke="#4d4d4d"/><line x1="276.9" y1="515" x2="275.7" y2="515.7" stroke="#333333"/><line x1="273.1" y1="507.3" x2="273" y2="509.5" stroke="#333333"/><line x1="281.7" y1="519.4" x2="283.6" y2="520.7" stroke="#404040"/><line x1="272.4" y1="503" x2="271.5" y2="503.9" stroke="#262626"/><line x1="277" y1="512.4" x2="277.4" y2="513.5" stroke="#d0d0d0"/><line x1="278.8" y1="517.8" x2="279.6" y2="518.6" stroke="#d0d0d0"/><line x1="274.4" y1="507.9" x2="272.4" y2="508.7" stroke="#5a5a5a"/><line x1="273.8" y1="507.1" x2="274.6" y2="507.8" stroke="#4d4d4d"/><line x1="286.7" y1="523.8" x2="288.4" y2="524.7" stroke="#5a5a5a"/><line x1="277.7" y1="519" x2="277.3" y2="520.8" stroke="#404040"/><line x1="271.7" y1="503.7" x2="270.1" y2="504.5" stroke="#4d4d4d"/><line x1="277.2" y1="514" x2="277.9" y2="514.9" stroke="#333333"/><line x1="285.5" y1="526.2" x2="284.3" y2="526.8" stroke="#333333"/><line x1="278.3" y1="519.1" x2="277.3" y2="520.4" stroke="#9a9a9a"/><line x1="277" y1="518.1" x2="278.1" y2="518.8" stroke="#d0d0d0"/><line x1="366.3" y1="537.7" x2="367.4" y2="537.8" stroke="#262626"/><line x1="314.2" y1="535" x2="316.9" y2="536.6" stroke="#4d4d4d"/><line x1="329.5" y1="536.6" x2="330" y2="537.5" stroke="#9a9a9a"/><line x1="324.4" y1="538.9" x2="323" y2="539.8" stroke="#262626"/><line x1="390.4" y1="536.9" x2="388.3" y2="539.1" stroke="#4d4d4d"/><line x1="361.9" y1="527.4" x2="361.8" y2="530.7" stroke="#262626"/><line x1="362.4" y1="541" x2="364.1" y2="542.7" stroke="#f0f0f0"/><line x1="354.4" y1="531.6" x2="355.2" y2="532.4" stroke="#333333"/><line x1="363" y1="536.1" x2="364.1" y2="537.2" stroke="#404040"/><line x1="330.7" y1="545.7" x2="331.5" y2="547.3" stroke="#d0d0d0"/><line x1="293.5" y1="532.3" x2="295" y2="534.9" stroke="#404040"/><line x1="358" y1="533.6" x2="358.3" y2="536.4" stroke="#9a9a9a"/><line x1="283.4" y1="522.1" x2="285.7" y2="523.7" stroke="#404040"/><line x1="289.9" y1="523.7" x2="290.1" y2="525.6" stroke="#262626"/><line x1="289.4" y1="529.6" x2="289.7" y2="531" stroke="#404040"/><line x1="355.3" y1="534.6" x2="352.7" y2="535.1" stroke="#333333"/><line x1="298.8" y1="535" x2="295.9" y2="536.5" stroke="#262626"/><line x1="298.7" y1="541.7" x2="299.7" y2="543.3" stroke="#404040"/><line x1="321.4" y1="541.9" x2="322.2" y2="542.7" stroke="#4d4d4d"/><line x1="353.3" y1="541.5" x2="351.3" y2="544.1" stroke="#f0f0f0"/><line x1="336.8" y1="530" x2="338.3" y2="530.8" stroke="#4d4d4d"/><line x1="296.1" y1="528" x2="294.9" y2="528.1" stroke="#262626"/><line x1="310.8" y1="535.8" x2="310.7" y2="537.9" stroke="#333333"/><line x1="330" y1="536" x2="327.2" y2="537.7" stroke="#262626"/><line x1="345.3" y1="524.5" x2="346.3" y2="525.2" stroke="#333333"/><line x1="352.2" y1="541.2" x2="354.9" y2="541.7" stroke="#4d4d4d"/><line x1="312.5" y1="532.6" x2="310.4" y2="532.9" stroke="#4d4d4d"/><line x1="299.2" y1="536.4" x2="299.4" y2="537.6" stroke="#4d4d4d"/><line x1="321.8" y1="532.9" x2="322.4" y2="535.2" stroke="#4d4d4d"/><line x1="298.2" y1="544" x2="298" y2="545.3" stroke="#9a9a9a"/><line x1="336.2" y1="531.9" x2="338" y2="533.5" stroke="#262626"/><line x1="339.1" y1="533.2" x2="341.1" y2="533.7" stroke="#262626"/><line x1="330.1" y1="543.1" x2="329.6" y2="545.8" stroke="#5a5a5a"/><line x1="345.3" y1="539.9" x2="347.9" y2="541.1" stroke="#262626"/><line x1="363" y1="527.3" x2="360.6" y2="528.2" stroke="#9a9a9a"/><line x1="369.9" y1="536.5" x2="368.8" y2="537.2" stroke="#333333"/><line x1="343.5" y1="540.9" x2="346.6" y2="542.1" stroke="#4d4d4d"/><line x1="331" y1="542.2" x2="330.6" y2="543.4" stroke="#262626"/><line x1="298.8" y1="532" x2="300.5" y2="534.1" stroke="#404040"/><line x1="342.2" y1="536.8" x2="339.4" y2="538.7" stroke="#262626"/><line x1="337.7" y1="543.4" x2="336.8" y2="544.1" stroke="#262626"/><line x1="376.7" y1="536.5" x2="377.4" y2="538.5" stroke="#262626"/><line x1="383.4" y1="534" x2="385.2" y2="534.4" stroke="#333333"/><line x1="386" y1="533.2" x2="387.4" y2="533.4" stroke="#333333"/><line x1="333.5" y1="532.8" x2="334.2" y2="534.5" stroke="#262626"/><line x1="347.2" y1="524" x2="349.4" y2="524.2" stroke="#f0f0f0"/><line x1="358.5" y1="521.8" x2="360" y2="523.5" stroke="#333333"/><line x1="346" y1="531" x2="342.5" y2="531.5" stroke="#262626"/><line x1="345" y1="539.8" x2="342.3" y2="540.9" stroke="#4d4d4d"/><line x1="354.1" y1="525.1" x2="356" y2="527.4" stroke="#9a9a9a"/><line x1="391.5" y1="536.5" x2="393.1" y2="538.9" stroke="#5a5a5a"/><line x1="338.6" y1="534.9" x2="339.7" y2="537" stroke="#404040"/><line x1="283.4" y1="524.1" x2="285.3" y2="527.1" stroke="#404040"/><line x1="330.8" y1="532.5" x2="331.6" y2="533.6" stroke="#262626"/><line x1="365.4" y1="531.8" x2="363.6" y2="532.2" stroke="#d0d0d0"/><line x1="298" y1="532.9" x2="296.1" y2="533" stroke="#5a5a5a"/><line x1="328.7" y1="543.3" x2="330.8" y2="543.7" stroke="#d0d0d0"/><line x1="278.8" y1="517.9" x2="280.7" y2="520" stroke="#333333"/><line x1="350.2" y1="543.1" x2="349.5" y2="544.4" stroke="#5a5a5a"/><line x1="394.5" y1="533.6" x2="397.4" y2="534.4" stroke="#d0d0d0"/><line x1="299.1" y1="531.3" x2="296.7" y2="532.3" stroke="#d0d0d0"/><line x1="368.2" y1="535.4" x2="369" y2="537.9" stroke="#333333"/><line x1="283.1" y1="526.9" x2="285.6" y2="527.3" stroke="#333333"/><line x1="336.8" y1="533.5" x2="338.3" y2="535.1" stroke="#262626"/><line x1="351.5" y1="538.1" x2="352.1" y2="539.1" stroke="#262626"/><line x1="293.5" y1="539.6" x2="296.5" y2="540.5" stroke="#404040"/><line x1="342.3" y1="533.2" x2="341.8" y2="535.8" stroke="#4d4d4d"/><line x1="316.7" y1="538.7" x2="318.6" y2="540.7" stroke="#5a5a5a"/><line x1="334.5" y1="535.6" x2="333.1" y2="536.8" stroke="#f0f0f0"/><line x1="304.1" y1="539.2" x2="305.1" y2="539.5" stroke="#262626"/><line x1="354.2" y1="524.4" x2="352.5" y2="525.7" stroke="#333333"/><line x1="355.4" y1="526.5" x2="354.3" y2="526.9" stroke="#4d4d4d"/><line x1="326.4" y1="545.1" x2="323.9" y2="545.5" stroke="#333333"/><line x1="301" y1="539.3" x2="300.2" y2="540.9" stroke="#f0f0f0"/><line x1="302.6" y1="532.5" x2="305.4" y2="534" stroke="#9a9a9a"/><line x1="308.9" y1="539.1" x2="307.4" y2="540" stroke="#333333"/><line x1="335.7" y1="544.1" x2="338.1" y2="545.4" stroke="#4d4d4d"/><line x1="331.7" y1="532.9" x2="330.3" y2="533.4" stroke="#d0d0d0"/><line x1="320.3" y1="540.1" x2="319" y2="540.7" stroke="#9a9a9a"/><line x1="279" y1="516" x2="278" y2="516.1" stroke="#d0d0d0"/><line x1="294.5" y1="538.5" x2="295.9" y2="538.9" stroke="#4d4d4d"/><line x1="287.1" y1="524.2" x2="284.4" y2="524.9" stroke="#d0d0d0"/><line x1="304.9" y1="540.5" x2="304.2" y2="541.4" stroke="#404040"/><line x1="366.8" y1="530" x2="368.6" y2="530.7" stroke="#404040"/><line x1="384.6" y1="538.3" x2="385.6" y2="539.4" stroke="#333333"/><line x1="338.6" y1="526.7" x2="338.2" y2="528.6" stroke="#262626"/><line x1="360.6" y1="535.5" x2="360.3" y2="537.9" stroke="#5a5a5a"/><line x1="364.3" y1="526.4" x2="365.4" y2="528.1" stroke="#f0f0f0"/><line x1="307.3" y1="534" x2="307.9" y2="535.5" stroke="#333333"/><line x1="315.9" y1="535.3" x2="315.6" y2="537" stroke="#f0f0f0"/><line x1="304.8" y1="534.7" x2="303.5" y2="536.1" stroke="#5a5a5a"/><line x1="324.4" y1="530.9" x2="323.5" y2="533.5" stroke="#333333"/><line x1="353.4" y1="531.6" x2="355.3" y2="533.2" stroke="#333333"/><line x1="364.8" y1="530.8" x2="364.9" y2="532.3" stroke="#262626"/><line x1="340.4" y1="531" x2="339.1" y2="531.9" stroke="#262626"/><line x1="354.8" y1="541.8" x2="351.8" y2="542.8" stroke="#262626"/><line x1="322.9" y1="542" x2="321.8" y2="542.7" stroke="#262626"/><line x1="319.9" y1="540.9" x2="319.7" y2="543" stroke="#262626"/><line x1="361.5" y1="528.2" x2="361.7" y2="531.2" stroke="#5a5a5a"/><line x1="294.4" y1="536.5" x2="295.4" y2="538.6" stroke="#333333"/><line x1="300.7" y1="532.5" x2="302.1" y2="532.8" stroke="#5a5a5a"/><line x1="305.7" y1="542" x2="308.2" y2="542.8" stroke="#9a9a9a"/><line x1="373.5" y1="534.2" x2="373.9" y2="535.3" stroke="#404040"/><line x1="321.2" y1="537.7" x2="322.4" y2="539.3" stroke="#4d4d4d"/><line x1="323.4" y1="532.8" x2="322" y2="533.2" stroke="#f0f0f0"/><line x1="363.6" y1="525.4" x2="362.7" y2="527" stroke="#262626"/><line x1="369" y1="525.7" x2="368.8" y2="527.9" stroke="#d0d0d0"/><line x1="348.9" y1="528.7" x2="349.3" y2="531.7" stroke="#404040"/><line x1="334.3" y1="544.1" x2="334.7" y2="546.2" stroke="#404040"/><line x1="377.4" y1="536.1" x2="376.1" y2="537.6" stroke="#262626"/><line x1="359.6" y1="531.9" x2="357.4" y2="533.9" stroke="#262626"/><line x1="359.8" y1="537.6" x2="359.8" y2="538.7" stroke="#5a5a5a"/><line x1="327.4" y1="533" x2="324.4" y2="533" stroke="#9a9a9a"/><line x1="293.9" y1="524" x2="293.8" y2="525" stroke="#f0f0f0"/><line x1="338.9" y1="527.1" x2="340.6" y2="527.4" stroke="#9a9a9a"/><line x1="336.1" y1="533" x2="337.4" y2="535.8" stroke="#333333"/><line x1="282.3" y1="523.3" x2="282.1" y2="525.3" stroke="#4d4d4d"/><line x1="363.4" y1="540.9" x2="362.8" y2="542.9" stroke="#d0d0d0"/><line x1="330.7" y1="543.6" x2="332.8" y2="544" stroke="#4d4d4d"/><line x1="345" y1="540.8" x2="345" y2="543.5" stroke="#4d4d4d"/><line x1="327" y1="535.7" x2="329.3" y2="538.1" stroke="#4d4d4d"/><line x1="304.6" y1="533" x2="305.9" y2="535" stroke="#262626"/><line x1="322.7" y1="535.1" x2="324.5" y2="536.6" stroke="#262626"/><line x1="333.1" y1="538.2" x2="333.7" y2="540.8" stroke="#262626"/><line x1="368.3" y1="529.9" x2="367.1" y2="530.1" stroke="#404040"/><line x1="382.3" y1="533.5" x2="382.1" y2="534.7" stroke="#262626"/><line x1="309.4" y1="544.2" x2="308" y2="544.9" stroke="#d0d0d0"/><line x1="392.2" y1="535.6" x2="394" y2="535.9" stroke="#404040"/><line x1="306.4" y1="538.7" x2="308.9" y2="540.3" stroke="#333333"/><line x1="287.8" y1="531.9" x2="285.8" y2="533.4" stroke="#404040"/><line x1="288" y1="535.3" x2="290.2" y2="536.3" stroke="#333333"/><line x1="322.1" y1="535.9" x2="323.3" y2="536.6" stroke="#f0f0f0"/><line x1="316.8" y1="542.3" x2="314.8" y2="543.2" stroke="#262626"/><line x1="290.4" y1="529.9" x2="290.3" y2="531.1" stroke="#404040"/><line x1="296.2" y1="531.3" x2="296.1" y2="533.2" stroke="#333333"/><line x1="373.3" y1="532.5" x2="372.4" y2="533.8" stroke="#5a5a5a"/><line x1="349.2" y1="540.2" x2="348.5" y2="541.1" stroke="#333333"/><line x1="361.1" y1="541.3" x2="362.5" y2="544" stroke="#404040"/><line x1="306.1" y1="538.4" x2="305.4" y2="539.6" stroke="#333333"/><line x1="373.4" y1="529.3" x2="373.4" y2="532.2" stroke="#d0d0d0"/><line x1="368.4" y1="534.9" x2="370.5" y2="536.4" stroke="#9a9a9a"/><line x1="364.2" y1="524.6" x2="367.2" y2="526.2" stroke="#4d4d4d"/><line x1="387.3" y1="538.8" x2="384.7" y2="540.3" stroke="#4d4d4d"/><line x1="329.5" y1="541.7" x2="327.1" y2="543.7" stroke="#333333"/><line x1="307" y1="542.2" x2="308.1" y2="543.2" stroke="#404040"/><line x1="305.1" y1="529.7" x2="302.5" y2="530.5" stroke="#5a5a5a"/><line x1="324.2" y1="540.2" x2="322.1" y2="541.9" stroke="#f0f0f0"/><line x1="349.2" y1="542.1" x2="348.4" y2="542.7" stroke="#404040"/><line x1="278" y1="516" x2="276.3" y2="517.1" stroke="#4d4d4d"/><line x1="379.9" y1="534.3" x2="380.6" y2="535.3" stroke="#333333"/><line x1="362.2" y1="527.9" x2="360.8" y2="530.6" stroke="#262626"/><line x1="309.4" y1="546.5" x2="310" y2="547.9" stroke="#d0d0d0"/><line x1="351.1" y1="544.2" x2="351.8" y2="546.3" stroke="#f0f0f0"/><line x1="299.3" y1="541.9" x2="301.3" y2="543" stroke="#262626"/><line x1="331.9" y1="541.1" x2="333.2" y2="542.5" stroke="#262626"/><line x1="344" y1="543" x2="343.9" y2="545" stroke="#d0d0d0"/><line x1="385.9" y1="536" x2="388.4" y2="536.6" stroke="#404040"/><line x1="357.3" y1="534.7" x2="358.2" y2="536.9" stroke="#4d4d4d"/><line x1="320.7" y1="547.1" x2="323.8" y2="547.7" stroke="#4d4d4d"/><line x1="344.6" y1="528.1" x2="342.3" y2="530.4" stroke="#5a5a5a"/><line x1="293.8" y1="533.2" x2="293.5" y2="534.2" stroke="#404040"/><line x1="367.9" y1="535.1" x2="369.8" y2="537.3" stroke="#333333"/><line x1="342.9" y1="527.1" x2="340.3" y2="527.3" stroke="#5a5a5a"/><line x1="359.2" y1="525.7" x2="356.5" y2="526" stroke="#5a5a5a"/><line x1="346.7" y1="541.7" x2="345.3" y2="542.9" stroke="#262626"/><line x1="339.5" y1="543.6" x2="342" y2="545" stroke="#262626"/><line x1="301.1" y1="544.7" x2="301.6" y2="547.8" stroke="#4d4d4d"/><line x1="294.7" y1="539.3" x2="294.9" y2="541.6" stroke="#4d4d4d"/><line x1="320.6" y1="545" x2="320.5" y2="546.7" stroke="#4d4d4d"/><line x1="307.9" y1="539.8" x2="311" y2="540.2" stroke="#4d4d4d"/><line x1="319.5" y1="545.8" x2="320.6" y2="547" stroke="#262626"/><line x1="343.5" y1="539.1" x2="342.4" y2="540.9" stroke="#5a5a5a"/><line x1="289.7" y1="523.1" x2="288.2" y2="526.1" stroke="#4d4d4d"/><line x1="361.1" y1="539.9" x2="362.2" y2="543.1" stroke="#5a5a5a"/><line x1="298.8" y1="543.4" x2="298.6" y2="545.7" stroke="#4d4d4d"/><line x1="326.8" y1="530.1" x2="324.4" y2="531.3" stroke="#4d4d4d"/><line x1="325.7" y1="532.7" x2="327.7" y2="535" stroke="#5a5a5a"/><line x1="358.6" y1="539.1" x2="358.6" y2="542.4" stroke="#d0d0d0"/><line x1="367.4" y1="541.6" x2="365.9" y2="544.4" stroke="#262626"/><line x1="362.6" y1="537.3" x2="362" y2="538.9" stroke="#262626"/><line x1="350.2" y1="541.7" x2="351.2" y2="542.8" stroke="#333333"/><line x1="320.2" y1="537.2" x2="323.3" y2="537.9" stroke="#333333"/><line x1="283.3" y1="528" x2="282.8" y2="531" stroke="#262626"/><line x1="303.6" y1="534.7" x2="304.5" y2="536.3" stroke="#4d4d4d"/><line x1="302.8" y1="540.6" x2="305.3" y2="542.5" stroke="#5a5a5a"/><line x1="338.1" y1="527.3" x2="340.6" y2="527.8" stroke="#5a5a5a"/><line x1="347.9" y1="526.4" x2="347.9" y2="528.9" stroke="#333333"/><line x1="316.5" y1="547.5" x2="318.7" y2="548" stroke="#262626"/><line x1="331.8" y1="536.6" x2="330.5" y2="538.3" stroke="#333333"/><line x1="366.5" y1="530.6" x2="366.8" y2="532.1" stroke="#5a5a5a"/><line x1="344.9" y1="537.2" x2="342.1" y2="537.5" stroke="#f0f0f0"/><line x1="389.2" y1="538" x2="388.4" y2="538.9" stroke="#333333"/><line x1="364.8" y1="534.7" x2="366.1" y2="536.1" stroke="#262626"/><line x1="371.6" y1="529" x2="368.4" y2="529.1" stroke="#5a5a5a"/><line x1="334.6" y1="541.6" x2="335.7" y2="542.1" stroke="#4d4d4d"/><line x1="387.8" y1="537.6" x2="384.4" y2="538.2" stroke="#404040"/><line x1="366.1" y1="525.8" x2="363.5" y2="527.6" stroke="#262626"/><line x1="348" y1="525.6" x2="351.1" y2="525.7" stroke="#5a5a5a"/><line x1="284.7" y1="523.6" x2="283.5" y2="526.6" stroke="#404040"/><line x1="305.9" y1="544.6" x2="306.4" y2="545.8" stroke="#4d4d4d"/><line x1="332.1" y1="533.1" x2="331" y2="535.6" stroke="#404040"/><line x1="325.2" y1="536.2" x2="324.2" y2="537.5" stroke="#4d4d4d"/><line x1="361.1" y1="529" x2="364.1" y2="530.4" stroke="#4d4d4d"/><line x1="283.7" y1="520.6" x2="282.1" y2="520.7" stroke="#404040"/><line x1="354" y1="538.7" x2="355.2" y2="538.8" stroke="#f0f0f0"/><line x1="282" y1="520.7" x2="280.5" y2="521" stroke="#4d4d4d"/><line x1="390.4" y1="535" x2="388.8" y2="535.4" stroke="#262626"/><line x1="352.2" y1="533.4" x2="351.3" y2="534.1" stroke="#262626"/><line x1="343.1" y1="522.5" x2="343.4" y2="523.4" stroke="#5a5a5a"/><line x1="291" y1="535.4" x2="292.7" y2="536.7" stroke="#262626"/><line x1="361.2" y1="533.6" x2="361" y2="535.7" stroke="#404040"/><line x1="351.2" y1="535.3" x2="348.4" y2="536.1" stroke="#5a5a5a"/><line x1="359.7" y1="542.6" x2="360.4" y2="545.7" stroke="#262626"/><line x1="304.4" y1="543.9" x2="302.6" y2="544.4" stroke="#5a5a5a"/><line x1="373.7" y1="531.2" x2="376.6" y2="532.1" stroke="#333333"/><line x1="353.1" y1="525.2" x2="352.7" y2="528.6" stroke="#262626"/><line x1="341.3" y1="535.4" x2="340.9" y2="538.7" stroke="#404040"/><line x1="388.4" y1="536.8" x2="387.2" y2="537" stroke="#333333"/><line x1="311.3" y1="544.6" x2="313" y2="544.7" stroke="#5a5a5a"/><line x1="329.9" y1="536.7" x2="328.3" y2="539.1" stroke="#5a5a5a"/><line x1="394.6" y1="535.2" x2="393.9" y2="537.7" stroke="#4d4d4d"/><line x1="361.5" y1="522.9" x2="362.6" y2="523.2" stroke="#262626"/><line x1="289.9" y1="529.8" x2="287.2" y2="530" stroke="#333333"/><line x1="288.3" y1="522.9" x2="289.1" y2="525.5" stroke="#404040"/><line x1="358.5" y1="522" x2="360" y2="522" stroke="#d0d0d0"/><line x1="295.4" y1="535.7" x2="294.7" y2="538.3" stroke="#262626"/><line x1="356.2" y1="532.5" x2="357.1" y2="533.3" stroke="#262626"/><line x1="321" y1="530.8" x2="322.6" y2="531.4" stroke="#5a5a5a"/><line x1="354.9" y1="529" x2="353.9" y2="529.4" stroke="#4d4d4d"/><line x1="290.2" y1="528.6" x2="289.5" y2="529.5" stroke="#262626"/><line x1="367.5" y1="532.3" x2="364.4" y2="533.6" stroke="#9a9a9a"/><line x1="297" y1="543.1" x2="297.9" y2="543.9" stroke="#333333"/><line x1="301.3" y1="535.9" x2="301.8" y2="537" stroke="#f0f0f0"/><line x1="333.8" y1="538.7" x2="333.7" y2="540.2" stroke="#404040"/><line x1="350.4" y1="535.4" x2="353.1" y2="536.8" stroke="#f0f0f0"/><line x1="321.2" y1="544.5" x2="322.5" y2="545.3" stroke="#4d4d4d"/><line x1="299.6" y1="539" x2="298.7" y2="542.2" stroke="#404040"/><line x1="334.7" y1="530.4" x2="332.5" y2="530.8" stroke="#f0f0f0"/><line x1="303.8" y1="546.6" x2="304.9" y2="548.3" stroke="#333333"/><line x1="350.7" y1="521.3" x2="351.1" y2="523.7" stroke="#5a5a5a"/><line x1="340.2" y1="532.9" x2="339.2" y2="533.3" stroke="#333333"/><line x1="296.6" y1="533.1" x2="296.9" y2="535.1" stroke="#d0d0d0"/><line x1="357.4" y1="543" x2="355.7" y2="543.2" stroke="#f0f0f0"/><line x1="311.5" y1="546.8" x2="309.7" y2="547.6" stroke="#404040"/><line x1="356.4" y1="530.5" x2="357.9" y2="531" stroke="#4d4d4d"/><line x1="348.1" y1="540.8" x2="344.9" y2="541.9" stroke="#333333"/><line x1="361.1" y1="521.2" x2="362.5" y2="522.5" stroke="#404040"/><line x1="367.2" y1="534.5" x2="367.4" y2="537.1" stroke="#5a5a5a"/><line x1="359.4" y1="537.5" x2="358.7" y2="538.8" stroke="#f0f0f0"/><line x1="304.6" y1="538.5" x2="305.7" y2="540.9" stroke="#5a5a5a"/><line x1="280.4" y1="516.9" x2="281" y2="518.9" stroke="#262626"/><line x1="347" y1="524.8" x2="345.7" y2="526.5" stroke="#262626"/><line x1="321.5" y1="546.6" x2="319.2" y2="548.7" stroke="#4d4d4d"/><line x1="354.1" y1="537.4" x2="352.6" y2="537.5" stroke="#5a5a5a"/><line x1="377.1" y1="533.6" x2="374.2" y2="535.1" stroke="#4d4d4d"/><line x1="341.8" y1="538.1" x2="342.6" y2="539" stroke="#262626"/><line x1="297.3" y1="537.1" x2="298.9" y2="537.1" stroke="#333333"/><line x1="278.4" y1="516.1" x2="275" y2="516.8" stroke="#262626"/><line x1="317.2" y1="530.8" x2="318.3" y2="532.5" stroke="#404040"/><line x1="287.2" y1="534.5" x2="286.3" y2="535.8" stroke="#5a5a5a"/><line x1="365.6" y1="524.3" x2="365.7" y2="525.8" stroke="#d0d0d0"/><line x1="294.9" y1="536.9" x2="295.9" y2="539.5" stroke="#333333"/><line x1="374" y1="540.9" x2="376.4" y2="541.6" stroke="#333333"/><line x1="363.1" y1="540.9" x2="361.8" y2="541.9" stroke="#262626"/><line x1="357.6" y1="532.3" x2="358.9" y2="533" stroke="#4d4d4d"/><line x1="289.3" y1="534.8" x2="290.5" y2="536" stroke="#404040"/><line x1="341.6" y1="538.1" x2="344.4" y2="538.4" stroke="#333333"/><line x1="311.8" y1="535" x2="310.3" y2="537.1" stroke="#d0d0d0"/><line x1="357.5" y1="521.4" x2="358.9" y2="522.1" stroke="#5a5a5a"/><line x1="377.7" y1="537.8" x2="374.8" y2="538.2" stroke="#333333"/><line x1="314.8" y1="538" x2="317.3" y2="538.4" stroke="#262626"/><line x1="338.3" y1="530.8" x2="339.5" y2="533.3" stroke="#404040"/><line x1="284.6" y1="525.9" x2="284.7" y2="527.6" stroke="#4d4d4d"/><line x1="334.7" y1="537.6" x2="333.2" y2="538.9" stroke="#404040"/><line x1="332.1" y1="534.9" x2="332.8" y2="535.8" stroke="#f0f0f0"/><line x1="333.3" y1="534.3" x2="334" y2="535.2" stroke="#5a5a5a"/><line x1="370.8" y1="527.7" x2="372.7" y2="528.3" stroke="#262626"/><line x1="311.4" y1="539.6" x2="312.6" y2="540.2" stroke="#262626"/><line x1="296.2" y1="531.1" x2="294.9" y2="531.9" stroke="#262626"/><line x1="370.1" y1="527.3" x2="370.7" y2="528.5" stroke="#333333"/><line x1="307.9" y1="538.7" x2="304.9" y2="539.8" stroke="#404040"/><line x1="393.6" y1="533.7" x2="395" y2="535.4" stroke="#5a5a5a"/><line x1="297.3" y1="538.8" x2="298" y2="540.1" stroke="#404040"/><line x1="369.9" y1="533.8" x2="366.7" y2="534.9" stroke="#333333"/><line x1="303.9" y1="544.7" x2="304.7" y2="547.2" stroke="#d0d0d0"/><line x1="368.8" y1="541.3" x2="370.7" y2="543.2" stroke="#404040"/><line x1="342.3" y1="524.1" x2="340.7" y2="525.1" stroke="#9a9a9a"/><line x1="367.5" y1="536.4" x2="367" y2="537.4" stroke="#9a9a9a"/><line x1="343.4" y1="528.4" x2="344.8" y2="531" stroke="#5a5a5a"/><line x1="288.3" y1="523.8" x2="291.3" y2="524" stroke="#333333"/><line x1="314.1" y1="534.8" x2="312.1" y2="535.5" stroke="#d0d0d0"/><line x1="383.5" y1="532.6" x2="385.8" y2="533.4" stroke="#9a9a9a"/><line x1="339.8" y1="529.4" x2="340.6" y2="532.5" stroke="#4d4d4d"/><line x1="320.7" y1="546.5" x2="319.9" y2="547.6" stroke="#d0d0d0"/><line x1="329.2" y1="537.8" x2="329.5" y2="539" stroke="#404040"/><line x1="376.9" y1="540.4" x2="377.6" y2="541.8" stroke="#5a5a5a"/><line x1="316.5" y1="538.4" x2="318.4" y2="539.7" stroke="#404040"/><line x1="345" y1="540.6" x2="347.8" y2="542.4" stroke="#404040"/><line x1="320.5" y1="545.3" x2="321.3" y2="545.9" stroke="#404040"/><line x1="293.7" y1="534.7" x2="292" y2="535.9" stroke="#4d4d4d"/><line x1="327.7" y1="530.5" x2="327.8" y2="531.7" stroke="#262626"/><line x1="317.8" y1="537.8" x2="316.7" y2="538.9" stroke="#333333"/><line x1="300.8" y1="533.1" x2="299" y2="535.3" stroke="#5a5a5a"/><line x1="363.4" y1="521.8" x2="360.5" y2="523.4" stroke="#262626"/><line x1="374" y1="536.4" x2="376" y2="537.3" stroke="#4d4d4d"/><line x1="326.4" y1="534.3" x2="327.3" y2="535.4" stroke="#333333"/><line x1="298.6" y1="529.3" x2="299.2" y2="532.6" stroke="#404040"/><line x1="300.3" y1="533.3" x2="301.6" y2="533.9" stroke="#262626"/><line x1="361" y1="526.1" x2="363.8" y2="527.6" stroke="#4d4d4d"/><line x1="365.6" y1="524.8" x2="364.3" y2="527.8" stroke="#404040"/><line x1="344.2" y1="535.9" x2="341.9" y2="538.4" stroke="#262626"/><line x1="321" y1="542.7" x2="319" y2="544.2" stroke="#4d4d4d"/><line x1="317.8" y1="546" x2="317.5" y2="548" stroke="#262626"/><line x1="354.6" y1="529.2" x2="355.6" y2="530.9" stroke="#4d4d4d"/><line x1="320.6" y1="544.9" x2="320.4" y2="546.5" stroke="#333333"/><line x1="308.5" y1="538.4" x2="306.4" y2="540.9" stroke="#f0f0f0"/><line x1="383.4" y1="539.1" x2="382.3" y2="542.4" stroke="#262626"/><line x1="350.9" y1="536.2" x2="349" y2="536.4" stroke="#f0f0f0"/><line x1="319.2" y1="538.5" x2="321.5" y2="539" stroke="#4d4d4d"/><line x1="373.3" y1="532.7" x2="373.8" y2="535.9" stroke="#4d4d4d"/><line x1="323.1" y1="536.9" x2="326.2" y2="536.9" stroke="#5a5a5a"/><line x1="358.3" y1="532.5" x2="357" y2="534" stroke="#f0f0f0"/><line x1="351.7" y1="523.4" x2="352.3" y2="524.9" stroke="#d0d0d0"/><line x1="373.4" y1="540.4" x2="370.5" y2="542.2" stroke="#5a5a5a"/><line x1="315.1" y1="539.3" x2="316.9" y2="541.1" stroke="#262626"/><line x1="309.8" y1="545.2" x2="313.1" y2="546.1" stroke="#5a5a5a"/><line x1="294.3" y1="539.4" x2="293.6" y2="542.6" stroke="#4d4d4d"/><line x1="328.6" y1="545.6" x2="331.4" y2="546.4" stroke="#262626"/><line x1="365.8" y1="535.4" x2="368" y2="536" stroke="#5a5a5a"/><line x1="302.4" y1="535.6" x2="303.6" y2="537" stroke="#d0d0d0"/><line x1="328.5" y1="532.6" x2="326.1" y2="534.2" stroke="#404040"/><line x1="293.8" y1="536.5" x2="297.2" y2="537" stroke="#404040"/><line x1="354.3" y1="525.6" x2="356.5" y2="527.7" stroke="#262626"/><line x1="333.7" y1="537.9" x2="332.5" y2="539.3" stroke="#d0d0d0"/><line x1="298.9" y1="530" x2="299.6" y2="531.2" stroke="#d0d0d0"/><line x1="334.3" y1="540.3" x2="336.6" y2="542.6" stroke="#333333"/><line x1="387.5" y1="534.1" x2="384.6" y2="534.3" stroke="#4d4d4d"/><line x1="341.6" y1="542.8" x2="341.8" y2="544" stroke="#d0d0d0"/><line x1="375.1" y1="536.6" x2="374" y2="537.7" stroke="#404040"/><line x1="360.1" y1="531.9" x2="360.5" y2="533.3" stroke="#262626"/><line x1="333.8" y1="529.8" x2="335.1" y2="531.2" stroke="#404040"/><line x1="369.7" y1="533.2" x2="372.5" y2="534.8" stroke="#333333"/><line x1="293.3" y1="533" x2="291.3" y2="533.2" stroke="#404040"/><line x1="311" y1="534.7" x2="310.3" y2="538" stroke="#4d4d4d"/><line x1="320.6" y1="546.2" x2="319.6" y2="548.3" stroke="#9a9a9a"/><line x1="358.4" y1="525" x2="357.8" y2="526.6" stroke="#f0f0f0"/><line x1="306" y1="547" x2="307" y2="547.2" stroke="#404040"/><line x1="301.3" y1="530.3" x2="304.2" y2="531.4" stroke="#4d4d4d"/><line x1="398" y1="536.4" x2="397.4" y2="537.2" stroke="#262626"/><line x1="314.5" y1="532.5" x2="316.5" y2="532.5" stroke="#d0d0d0"/><line x1="348.5" y1="541.7" x2="350" y2="541.7" stroke="#262626"/><line x1="315.8" y1="546.8" x2="316.6" y2="549.4" stroke="#262626"/><line x1="320.8" y1="535.8" x2="317.4" y2="536.3" stroke="#f0f0f0"/><line x1="352.7" y1="535.5" x2="355.1" y2="536.9" stroke="#404040"/><line x1="320.2" y1="544.4" x2="321.1" y2="545.4" stroke="#262626"/><line x1="294.4" y1="533.2" x2="293.2" y2="534" stroke="#404040"/><line x1="346.7" y1="532.2" x2="347.3" y2="534.4" stroke="#262626"/><line x1="283.1" y1="527.2" x2="285.3" y2="529.2" stroke="#333333"/><line x1="287.4" y1="529.2" x2="288" y2="530.9" stroke="#5a5a5a"/><line x1="303.3" y1="536.1" x2="301.5" y2="537.2" stroke="#404040"/><line x1="389.6" y1="533.7" x2="390.6" y2="534.4" stroke="#262626"/><line x1="355.8" y1="527.2" x2="357.1" y2="529.1" stroke="#d0d0d0"/><line x1="387.9" y1="537.4" x2="388.2" y2="538.8" stroke="#262626"/><line x1="364.2" y1="530.4" x2="366.5" y2="531.7" stroke="#404040"/><line x1="325.3" y1="536.8" x2="325.6" y2="538.1" stroke="#262626"/><line x1="337.8" y1="529.6" x2="340" y2="531.1" stroke="#404040"/><line x1="360.3" y1="537.1" x2="359.5" y2="540.4" stroke="#262626"/><line x1="364" y1="540.8" x2="365.7" y2="541.5" stroke="#262626"/><line x1="347.7" y1="538" x2="349" y2="540.5" stroke="#333333"/><line x1="363.6" y1="522" x2="361.5" y2="522.1" stroke="#262626"/><line x1="382.4" y1="534.9" x2="385.2" y2="536.4" stroke="#5a5a5a"/><line x1="290.2" y1="525.7" x2="289.7" y2="526.6" stroke="#262626"/><line x1="319.5" y1="543.5" x2="317.7" y2="543.5" stroke="#d0d0d0"/><line x1="339.8" y1="529.4" x2="340.8" y2="531.1" stroke="#404040"/><line x1="338" y1="527.1" x2="337.3" y2="528.3" stroke="#404040"/><line x1="309.9" y1="539.7" x2="308.2" y2="542.1" stroke="#404040"/><line x1="306.6" y1="545.3" x2="306.6" y2="547.3" stroke="#333333"/><line x1="325.4" y1="537.5" x2="323.6" y2="538.7" stroke="#5a5a5a"/><line x1="302.2" y1="528.3" x2="303" y2="529.9" stroke="#333333"/><line x1="368.8" y1="538.4" x2="370.1" y2="539.4" stroke="#5a5a5a"/><line x1="356.5" y1="536.3" x2="355.4" y2="538.8" stroke="#333333"/><line x1="283.5" y1="525" x2="286.9" y2="525.3" stroke="#404040"/><line x1="373.9" y1="538.5" x2="373.9" y2="540.5" stroke="#333333"/><line x1="335.9" y1="537.6" x2="333" y2="538.6" stroke="#9a9a9a"/><line x1="314.6" y1="547.1" x2="315.8" y2="547.8" stroke="#333333"/><line x1="316.8" y1="542.7" x2="314.8" y2="543.4" stroke="#333333"/><line x1="349.2" y1="521.2" x2="351.2" y2="521.3" stroke="#404040"/><line x1="359.6" y1="534.5" x2="360.5" y2="535.1" stroke="#4d4d4d"/><line x1="351.2" y1="522.6" x2="353.7" y2="524.4" stroke="#d0d0d0"/><line x1="304.7" y1="533.1" x2="304.3" y2="534.9" stroke="#262626"/><line x1="316" y1="535.2" x2="315.3" y2="537.4" stroke="#262626"/><line x1="348.2" y1="525.6" x2="351.2" y2="525.9" stroke="#5a5a5a"/><line x1="309.1" y1="539.9" x2="309.3" y2="543.4" stroke="#262626"/><line x1="352.9" y1="540" x2="350.8" y2="541.1" stroke="#404040"/><line x1="308" y1="539.1" x2="308.6" y2="542.5" stroke="#262626"/><line x1="287.2" y1="525.3" x2="287.7" y2="527.5" stroke="#333333"/><line x1="362.3" y1="530.6" x2="360.9" y2="530.7" stroke="#404040"/><line x1="317.3" y1="534.1" x2="316.9" y2="535.8" stroke="#262626"/><line x1="290.1" y1="535.6" x2="289.9" y2="537.4" stroke="#333333"/><line x1="327.3" y1="546.4" x2="328.2" y2="548.3" stroke="#262626"/><line x1="357.5" y1="535.9" x2="357.8" y2="537.9" stroke="#333333"/><line x1="373.2" y1="528.5" x2="371.5" y2="529.4" stroke="#5a5a5a"/><line x1="279.5" y1="519.9" x2="276.9" y2="520.2" stroke="#4d4d4d"/><line x1="337.1" y1="529" x2="338.3" y2="529.8" stroke="#4d4d4d"/><line x1="361.3" y1="521.3" x2="360.8" y2="522.5" stroke="#4d4d4d"/><line x1="297.1" y1="530.3" x2="298.4" y2="532.3" stroke="#262626"/><line x1="335.5" y1="534.2" x2="337.1" y2="534.9" stroke="#4d4d4d"/><line x1="343.2" y1="534.2" x2="341.3" y2="535.7" stroke="#333333"/><line x1="330.4" y1="541.9" x2="329.8" y2="544.7" stroke="#333333"/><line x1="377.1" y1="535.5" x2="379.5" y2="536.3" stroke="#262626"/><line x1="330.1" y1="541.9" x2="328.8" y2="543.8" stroke="#9a9a9a"/><line x1="301" y1="544.3" x2="301.5" y2="545.3" stroke="#333333"/><line x1="310.3" y1="545.1" x2="307.2" y2="546.1" stroke="#f0f0f0"/><line x1="330.1" y1="540.6" x2="332.2" y2="543.2" stroke="#5a5a5a"/><line x1="343.9" y1="534" x2="342.7" y2="534.6" stroke="#5a5a5a"/><line x1="333.1" y1="540.3" x2="333.3" y2="541.8" stroke="#f0f0f0"/><line x1="310.6" y1="538.8" x2="309.2" y2="539.6" stroke="#5a5a5a"/><line x1="302.7" y1="546.3" x2="303.6" y2="548.4" stroke="#404040"/><line x1="318.7" y1="538.4" x2="317.8" y2="540.1" stroke="#404040"/><line x1="334" y1="530.2" x2="332.9" y2="531.2" stroke="#5a5a5a"/></g>
</g>
<polygon points="124,433.8 124,428 126,416 125,404 129,400 126,396 127,384 128,374 125,360 122,352 125,332 124,322 126,310 127,298 129,289 134,288 145,287 146.5,280 147.9,276 149,265.9 153.2,258.5 158.5,253.1 159.6,246.8 172.3,243.6 174.4,234 177.6,228.7 173.4,224.5 173.4,219.2 176.6,213.9 182.9,214.9 185,209.6 186.1,200.1 182.9,193.7 181.9,185.2 178.7,175.6 172.3,170.3 168.1,167.2 170.2,153.4 172.3,144.9 177.6,139.6 175.5,135.3 176.6,130 174.6,124.9 175.9,113.6 175.9,100.5 183,94 190.5,88.4 196.1,79.9 200.8,72.4 201.8,63.1 202.7,49 212.1,41.5 220.5,35 239.2,31.6 265.4,32.2 271,27.5 278.5,26.6 287.9,30.3 297.3,33.1 308.5,37.8 316,36.9 326.3,42.5 337.5,53.7 342,59.3 346.5,67.2 351,73.9 360,73.9 369,68.3 382.5,67.2 398.2,58.2 405,56 416.2,58.2 429.7,67.2 434.2,70.6 440.9,71.7 447.6,77.3 460.2,81.8 484.9,84 502.9,84 514.1,71.7 525.4,62.7 534.4,59.3 547.8,58.2 561.3,53.7 579.3,53.3 601.8,54.8 624.2,61.6 635.5,68.3 653.4,69.4 660.2,60.4 678.1,46.9 693.9,44.7 700.6,36.8 718.6,35.7 727.6,47 741.1,69.4 745.5,89.6 746.9,101.2 748,107.4 756.4,108.5 764.3,110.2 768.8,114.7 774.4,118.1 772.1,121.5 771,132.7 769.9,142.8 772.7,147.3 772.1,152.9 765.4,156.9 758.7,160.8 751.9,165.3 746.3,167.5 737.3,164.7 735.1,167.5 731.7,173.1 728.3,179.9 717,193 710.5,212.5 708.8,228.7 699.1,235.2 697.5,241.7 699.1,248.2 695.8,259.5 682.9,266 676.4,272.5 676.4,280.6 673.1,293.6 671.5,305 660.1,311.5 652,314.7 643.9,321.2 642.3,335.8 637.4,352.1 630.9,368.3 626,378 619.8,386.6 620.8,395.4 607,404.2 605.1,411 604.1,419.9 594.4,426.7 580.7,426.7 579.7,417 571.9,416 566,409.1 565,403.2 554.3,396.4 551.4,392 549.4,394.4 548.4,405.2 538.7,406.2 530.8,406.2 528.9,399.3 522,403.2 516.2,409.1 508.3,413 505.4,424.7 499.6,426.7 489.8,432.6 483.9,438.4 469.6,455.8 458.3,465.5 460,480.1 456.7,496.3 453.4,509.2 443.7,520.5 438.9,525.4 429.2,522.2 427.5,531.9 410,533.6 395.2,535.2 380,537.5 362.8,541.2 345,543.8 330.4,545.3 318,546.8 309,547.4 301,545.2 292.5,539 285,531 279,521 274.5,511 270.5,498 266.5,487 261.5,476 254.5,466 247.5,457.5 241.4,451.5 230.1,441.2 217.1,434.7 200.9,431.5 184.7,430.9 158.8,432.2 133,433.1" fill="none" stroke="#3a3a3a" stroke-width="1.1" stroke-linejoin="round"/>
<path d="M265 551.3H378M428 551.3H462" stroke="#cfe3cf" stroke-width="1.2"/></g>
<g transform="translate(840 -3.4)"><g clip-path="url(#clipN)">
<g shape-rendering="crispEdges"><rect x="132.1" y="4.9" width="136.5" height="27.6" fill="#6e0000"/>
<rect x="268.2" y="4.9" width="435.9" height="27.6" fill="#94340c"/>
<rect x="703.7" y="4.9" width="54.8" height="27.6" fill="#6e0000"/>
<rect x="758.1" y="4.9" width="7.1" height="27.6" fill="#94340c"/>
<rect x="132.1" y="32.1" width="136.5" height="27.6" fill="#6e0000"/>
<rect x="268.2" y="32.1" width="435.9" height="27.6" fill="#94340c"/>
<rect x="703.7" y="32.1" width="54.8" height="27.6" fill="#6e0000"/>
<rect x="758.1" y="32.1" width="7.1" height="27.6" fill="#94340c"/>
<rect x="132.1" y="59.3" width="136.5" height="27.6" fill="#6e0000"/>
<rect x="268.2" y="59.3" width="354.3" height="27.6" fill="#94340c"/>
<rect x="622" y="59.3" width="54.8" height="27.6" fill="#6e0000"/>
<rect x="676.5" y="59.3" width="54.8" height="27.6" fill="#94340c"/>
<rect x="730.9" y="59.3" width="27.6" height="27.6" fill="#6e0000"/>
<rect x="758.1" y="59.3" width="7.1" height="27.6" fill="#94340c"/>
<rect x="132.1" y="86.5" width="109.3" height="27.6" fill="#6e0000"/>
<rect x="240.9" y="86.5" width="109.3" height="27.6" fill="#94340c"/>
<rect x="349.8" y="86.5" width="82.1" height="27.6" fill="#b65d1d"/>
<rect x="431.5" y="86.5" width="245.4" height="27.6" fill="#94340c"/>
<rect x="676.5" y="86.5" width="54.8" height="27.6" fill="#6e0000"/>
<rect x="730.9" y="86.5" width="34.3" height="27.6" fill="#94340c"/>
<rect x="132.1" y="113.7" width="109.3" height="27.6" fill="#6e0000"/>
<rect x="240.9" y="113.7" width="82.1" height="27.6" fill="#94340c"/>
<rect x="322.6" y="113.7" width="163.7" height="27.6" fill="#b65d1d"/>
<rect x="485.9" y="113.7" width="190.9" height="27.6" fill="#94340c"/>
<rect x="676.5" y="113.7" width="88.7" height="27.6" fill="#6e0000"/>
<rect x="132.1" y="140.9" width="109.3" height="27.6" fill="#6e0000"/>
<rect x="240.9" y="140.9" width="54.8" height="27.6" fill="#94340c"/>
<rect x="295.4" y="140.9" width="82.1" height="27.6" fill="#b65d1d"/>
<rect x="377" y="140.9" width="27.6" height="27.6" fill="#e19128"/>
<rect x="404.3" y="140.9" width="54.8" height="27.6" fill="#b65d1d"/>
<rect x="458.7" y="140.9" width="27.6" height="27.6" fill="#e19128"/>
<rect x="485.9" y="140.9" width="27.6" height="27.6" fill="#b65d1d"/>
<rect x="513.1" y="140.9" width="163.7" height="27.6" fill="#94340c"/>
<rect x="676.5" y="140.9" width="27.6" height="27.6" fill="#6e0000"/>
<rect x="703.7" y="140.9" width="27.6" height="27.6" fill="#94340c"/>
<rect x="730.9" y="140.9" width="34.3" height="27.6" fill="#6e0000"/>
<rect x="132.1" y="168.1" width="190.9" height="27.6" fill="#94340c"/>
<rect x="322.6" y="168.1" width="82.1" height="27.6" fill="#b65d1d"/>
<rect x="404.3" y="168.1" width="82.1" height="27.6" fill="#e19128"/>
<rect x="485.9" y="168.1" width="54.8" height="27.6" fill="#b65d1d"/>
<rect x="540.4" y="168.1" width="163.7" height="27.6" fill="#94340c"/>
<rect x="703.7" y="168.1" width="27.6" height="27.6" fill="#b65d1d"/>
<rect x="730.9" y="168.1" width="34.3" height="27.6" fill="#94340c"/>
<rect x="132.1" y="195.3" width="218.2" height="27.6" fill="#94340c"/>
<rect x="349.8" y="195.3" width="27.6" height="27.6" fill="#b65d1d"/>
<rect x="377" y="195.3" width="54.8" height="27.6" fill="#e19128"/>
<rect x="431.5" y="195.3" width="54.8" height="27.6" fill="#f2af3a"/>
<rect x="485.9" y="195.3" width="27.6" height="27.6" fill="#e19128"/>
<rect x="513.1" y="195.3" width="27.6" height="27.6" fill="#b65d1d"/>
<rect x="540.4" y="195.3" width="109.3" height="27.6" fill="#94340c"/>
<rect x="649.2" y="195.3" width="82.1" height="27.6" fill="#b65d1d"/>
<rect x="730.9" y="195.3" width="34.3" height="27.6" fill="#94340c"/>
<rect x="132.1" y="222.5" width="218.2" height="27.6" fill="#94340c"/>
<rect x="349.8" y="222.5" width="27.6" height="27.6" fill="#b65d1d"/>
<rect x="377" y="222.5" width="27.6" height="27.6" fill="#e19128"/>
<rect x="404.3" y="222.5" width="27.6" height="27.6" fill="#f2af3a"/>
<rect x="431.5" y="222.5" width="54.8" height="27.6" fill="#face50"/>
<rect x="485.9" y="222.5" width="54.8" height="27.6" fill="#b65d1d"/>
<rect x="540.4" y="222.5" width="224.8" height="27.6" fill="#94340c"/>
<rect x="132.1" y="249.7" width="218.2" height="27.6" fill="#94340c"/>
<rect x="349.8" y="249.7" width="27.6" height="27.6" fill="#b65d1d"/>
<rect x="377" y="249.7" width="27.6" height="27.6" fill="#e19128"/>
<rect x="404.3" y="249.7" width="27.6" height="27.6" fill="#b65d1d"/>
<rect x="431.5" y="249.7" width="54.8" height="27.6" fill="#f2af3a"/>
<rect x="485.9" y="249.7" width="27.6" height="27.6" fill="#b65d1d"/>
<rect x="513.1" y="249.7" width="252.1" height="27.6" fill="#94340c"/>
<rect x="132.1" y="276.9" width="27.6" height="27.6" fill="#94340c"/>
<rect x="159.3" y="276.9" width="27.6" height="27.6" fill="#b65d1d"/>
<rect x="186.5" y="276.9" width="190.9" height="27.6" fill="#94340c"/>
<rect x="377" y="276.9" width="27.6" height="27.6" fill="#b65d1d"/>
<rect x="404.3" y="276.9" width="190.9" height="27.6" fill="#94340c"/>
<rect x="594.8" y="276.9" width="27.6" height="27.6" fill="#e19128"/>
<rect x="622" y="276.9" width="27.6" height="27.6" fill="#94340c"/>
<rect x="649.2" y="276.9" width="27.6" height="27.6" fill="#b65d1d"/>
<rect x="676.5" y="276.9" width="88.7" height="27.6" fill="#94340c"/>
<rect x="132.1" y="304.1" width="82.1" height="27.6" fill="#94340c"/>
<rect x="213.7" y="304.1" width="54.8" height="27.6" fill="#b65d1d"/>
<rect x="268.2" y="304.1" width="327" height="27.6" fill="#94340c"/>
<rect x="594.8" y="304.1" width="27.6" height="27.6" fill="#f2af3a"/>
<rect x="622" y="304.1" width="27.6" height="27.6" fill="#b65d1d"/>
<rect x="649.2" y="304.1" width="116" height="27.6" fill="#94340c"/>
<rect x="132.1" y="331.3" width="54.8" height="27.6" fill="#94340c"/>
<rect x="186.5" y="331.3" width="136.5" height="27.6" fill="#b65d1d"/>
<rect x="322.6" y="331.3" width="218.2" height="27.6" fill="#94340c"/>
<rect x="540.4" y="331.3" width="27.6" height="27.6" fill="#b65d1d"/>
<rect x="567.6" y="331.3" width="82.1" height="27.6" fill="#e19128"/>
<rect x="649.2" y="331.3" width="116" height="27.6" fill="#94340c"/>
<rect x="132.1" y="358.5" width="82.1" height="27.6" fill="#94340c"/>
<rect x="213.7" y="358.5" width="109.3" height="27.6" fill="#b65d1d"/>
<rect x="322.6" y="358.5" width="163.7" height="27.6" fill="#94340c"/>
<rect x="485.9" y="358.5" width="54.8" height="27.6" fill="#b65d1d"/>
<rect x="540.4" y="358.5" width="54.8" height="27.6" fill="#f2af3a"/>
<rect x="594.8" y="358.5" width="27.6" height="27.6" fill="#face50"/>
<rect x="622" y="358.5" width="143.2" height="27.6" fill="#fde264"/>
<rect x="132.1" y="385.7" width="163.7" height="27.6" fill="#94340c"/>
<rect x="295.4" y="385.7" width="27.6" height="27.6" fill="#b65d1d"/>
<rect x="322.6" y="385.7" width="27.6" height="27.6" fill="#94340c"/>
<rect x="349.8" y="385.7" width="27.6" height="27.6" fill="#b65d1d"/>
<rect x="377" y="385.7" width="82.1" height="27.6" fill="#94340c"/>
<rect x="458.7" y="385.7" width="27.6" height="27.6" fill="#b65d1d"/>
<rect x="485.9" y="385.7" width="27.6" height="27.6" fill="#e19128"/>
<rect x="513.1" y="385.7" width="54.8" height="27.6" fill="#f2af3a"/>
<rect x="567.6" y="385.7" width="27.6" height="27.6" fill="#fffd7a"/>
<rect x="594.8" y="385.7" width="170.4" height="27.6" fill="#fde264"/>
<rect x="132.1" y="412.9" width="190.9" height="27.6" fill="#94340c"/>
<rect x="322.6" y="412.9" width="54.8" height="27.6" fill="#b65d1d"/>
<rect x="377" y="412.9" width="27.6" height="27.6" fill="#94340c"/>
<rect x="404.3" y="412.9" width="54.8" height="27.6" fill="#b65d1d"/>
<rect x="458.7" y="412.9" width="27.6" height="27.6" fill="#e19128"/>
<rect x="485.9" y="412.9" width="27.6" height="27.6" fill="#face50"/>
<rect x="513.1" y="412.9" width="54.8" height="27.6" fill="#94340c"/>
<rect x="567.6" y="412.9" width="54.8" height="27.6" fill="#face50"/>
<rect x="622" y="412.9" width="143.2" height="27.6" fill="#94340c"/>
<rect x="240.9" y="440.1" width="109.3" height="27.6" fill="#94340c"/>
<rect x="349.8" y="440.1" width="136.5" height="27.6" fill="#b65d1d"/>
<rect x="485.9" y="440.1" width="279.3" height="27.6" fill="#94340c"/>
<rect x="240.9" y="467.3" width="109.3" height="27.6" fill="#94340c"/>
<rect x="349.8" y="467.3" width="82.1" height="27.6" fill="#b65d1d"/>
<rect x="431.5" y="467.3" width="27.6" height="27.6" fill="#e19128"/>
<rect x="458.7" y="467.3" width="306.5" height="27.6" fill="#94340c"/>
<rect x="240.9" y="494.5" width="54.8" height="27.6" fill="#94340c"/>
<rect x="295.4" y="494.5" width="27.6" height="27.6" fill="#b65d1d"/>
<rect x="322.6" y="494.5" width="54.8" height="27.6" fill="#94340c"/>
<rect x="377" y="494.5" width="82.1" height="27.6" fill="#b65d1d"/>
<rect x="458.7" y="494.5" width="306.5" height="27.6" fill="#94340c"/>
<rect x="240.9" y="521.7" width="27.6" height="27.6" fill="#94340c"/>
<rect x="268.2" y="521.7" width="27.6" height="27.6" fill="#b65d1d"/>
<rect x="295.4" y="521.7" width="469.8" height="27.6" fill="#94340c"/></g>
<rect x="159.3" y="113.7" width="27.2" height="20.5" fill="#fff"/>
<rect x="159.3" y="168.1" width="27.2" height="23.5" fill="#fff"/>
<rect x="159.3" y="223.4" width="27.2" height="20.1" fill="#fff"/>
<rect x="384.5" y="523" width="44.5" height="20" fill="#fff"/>
<g><polygon points="254,461 264.5,458.5 279.4,466.5 287,477 289.5,488 285.4,493.5 278,496 275.5,504 271,504 266,490 259,477 252,465" fill="#3b3f44" fill-opacity="0.4"/><polygon points="270,498 276,510 283,521 290,526 286,530 279,522 273,511" fill="#3b3f44" fill-opacity="0.4"/><polygon points="276,512 285,521 293,523.5 305,529.5 314,531 326,528 335,529.5 344,520.5 362,520.5 371,526.5 380,532.5 399,532.5 399,537 370,542 340,545.5 311,548 300,546 288,536 280,525" fill="#3b3f44" fill-opacity="0.4"/></g><g stroke-width="1.2" stroke-linecap="round"><line x1="264.1" y1="465.4" x2="263.6" y2="466.4" stroke="#4d4d4d"/><line x1="265.7" y1="461.1" x2="265.7" y2="462.2" stroke="#404040"/><line x1="254.6" y1="462.6" x2="255.3" y2="465.6" stroke="#262626"/><line x1="287.5" y1="484.8" x2="288.6" y2="488" stroke="#262626"/><line x1="257.4" y1="463.9" x2="259.1" y2="466.4" stroke="#333333"/><line x1="273.8" y1="487.6" x2="274.7" y2="489.8" stroke="#262626"/><line x1="254.2" y1="467.9" x2="253.1" y2="469.6" stroke="#333333"/><line x1="274" y1="479.1" x2="275.7" y2="481.5" stroke="#9a9a9a"/><line x1="271.7" y1="498.3" x2="270.6" y2="499.6" stroke="#f0f0f0"/><line x1="277.1" y1="493.3" x2="276.3" y2="496.4" stroke="#333333"/><line x1="278.1" y1="485.5" x2="277.5" y2="487.6" stroke="#d0d0d0"/><line x1="287.4" y1="480.1" x2="286.9" y2="481.1" stroke="#9a9a9a"/><line x1="282.8" y1="471.4" x2="283.8" y2="474" stroke="#262626"/><line x1="269.3" y1="466.1" x2="270.4" y2="466.6" stroke="#9a9a9a"/><line x1="256.9" y1="469.8" x2="257.9" y2="472.8" stroke="#262626"/><line x1="268.8" y1="483.5" x2="266" y2="484.6" stroke="#d0d0d0"/><line x1="262.4" y1="477.4" x2="263.8" y2="480.3" stroke="#f0f0f0"/><line x1="257.7" y1="466.5" x2="258.8" y2="467.6" stroke="#4d4d4d"/><line x1="274.1" y1="470.5" x2="276.1" y2="470.5" stroke="#404040"/><line x1="273.2" y1="501.9" x2="271.9" y2="503.8" stroke="#5a5a5a"/><line x1="266.7" y1="476.7" x2="269.2" y2="477.5" stroke="#262626"/><line x1="254.5" y1="468" x2="256.1" y2="468.9" stroke="#262626"/><line x1="275" y1="465.3" x2="276.3" y2="466.6" stroke="#404040"/><line x1="270.1" y1="462.4" x2="271.9" y2="463" stroke="#333333"/><line x1="271.8" y1="465.2" x2="271.7" y2="466.2" stroke="#4d4d4d"/><line x1="278.1" y1="470.4" x2="278.7" y2="471.7" stroke="#9a9a9a"/><line x1="272" y1="493.9" x2="272.8" y2="495.3" stroke="#d0d0d0"/><line x1="279.7" y1="468.8" x2="279.6" y2="470.7" stroke="#262626"/><line x1="260.3" y1="468.8" x2="261.5" y2="469.7" stroke="#5a5a5a"/><line x1="270" y1="488.2" x2="269" y2="488.9" stroke="#5a5a5a"/><line x1="280.1" y1="480.3" x2="282.6" y2="481.8" stroke="#404040"/><line x1="266.8" y1="476.8" x2="264.1" y2="477.2" stroke="#333333"/><line x1="256.8" y1="465.4" x2="253.9" y2="466.3" stroke="#262626"/><line x1="276.6" y1="474.4" x2="276.4" y2="475.8" stroke="#262626"/><line x1="288.4" y1="488.1" x2="288.1" y2="491.4" stroke="#404040"/><line x1="259.9" y1="470" x2="260.9" y2="471.2" stroke="#5a5a5a"/><line x1="261.7" y1="477.6" x2="264.7" y2="478.9" stroke="#404040"/><line x1="269.2" y1="485" x2="267.2" y2="485.6" stroke="#f0f0f0"/><line x1="270.8" y1="482.7" x2="270.7" y2="483.7" stroke="#404040"/><line x1="269.8" y1="491.5" x2="269.4" y2="493.3" stroke="#4d4d4d"/><line x1="272.8" y1="494.2" x2="275.1" y2="495" stroke="#333333"/><line x1="271" y1="484.1" x2="268.6" y2="486.3" stroke="#404040"/><line x1="275" y1="481.5" x2="274.9" y2="484.2" stroke="#404040"/><line x1="272" y1="480.3" x2="269.3" y2="480.8" stroke="#d0d0d0"/><line x1="273" y1="501.4" x2="271.8" y2="502.1" stroke="#262626"/><line x1="268.6" y1="461.8" x2="269.4" y2="462.6" stroke="#5a5a5a"/><line x1="266.9" y1="480.7" x2="263.9" y2="480.8" stroke="#333333"/><line x1="268.2" y1="482" x2="268.9" y2="483.3" stroke="#404040"/><line x1="272.8" y1="478.5" x2="274.6" y2="478.6" stroke="#5a5a5a"/><line x1="262" y1="460.3" x2="260.7" y2="461.4" stroke="#262626"/><line x1="273.4" y1="490.4" x2="274.5" y2="490.7" stroke="#9a9a9a"/><line x1="267.9" y1="461.8" x2="265.4" y2="462.3" stroke="#d0d0d0"/><line x1="269" y1="473.9" x2="268.5" y2="477.2" stroke="#333333"/><line x1="260.9" y1="463.5" x2="261.9" y2="464" stroke="#333333"/><line x1="263.7" y1="472.4" x2="262.4" y2="473.6" stroke="#4d4d4d"/><line x1="258.7" y1="474.3" x2="260.3" y2="474.4" stroke="#262626"/><line x1="279.5" y1="483.6" x2="281.3" y2="484.8" stroke="#f0f0f0"/><line x1="268.2" y1="481" x2="266.5" y2="482" stroke="#4d4d4d"/><line x1="278.5" y1="487.4" x2="279.1" y2="489.2" stroke="#262626"/><line x1="256.9" y1="461.7" x2="255.7" y2="462.9" stroke="#333333"/><line x1="284.6" y1="489" x2="285.7" y2="490.3" stroke="#333333"/><line x1="269.2" y1="465.7" x2="269.5" y2="467.3" stroke="#f0f0f0"/><line x1="263.6" y1="474.7" x2="265.6" y2="474.7" stroke="#4d4d4d"/><line x1="270.9" y1="467.6" x2="270.8" y2="468.7" stroke="#333333"/><line x1="263.4" y1="469.1" x2="262.8" y2="471.3" stroke="#9a9a9a"/><line x1="276.7" y1="491.1" x2="274.8" y2="491.8" stroke="#404040"/><line x1="279.2" y1="487.8" x2="282.2" y2="488.2" stroke="#d0d0d0"/><line x1="275.5" y1="491.9" x2="274.4" y2="492.6" stroke="#4d4d4d"/><line x1="270.9" y1="496.5" x2="268.4" y2="498.3" stroke="#5a5a5a"/><line x1="285.5" y1="489.6" x2="284.6" y2="490.9" stroke="#262626"/><line x1="272.9" y1="487.1" x2="271.9" y2="489.6" stroke="#4d4d4d"/><line x1="280.1" y1="481.4" x2="279.8" y2="484" stroke="#262626"/><line x1="279.6" y1="470" x2="281.2" y2="470.4" stroke="#9a9a9a"/><line x1="266.3" y1="480.3" x2="264.8" y2="482.7" stroke="#5a5a5a"/><line x1="257.5" y1="470.1" x2="256.3" y2="471.3" stroke="#4d4d4d"/><line x1="278" y1="489.2" x2="279.4" y2="491.1" stroke="#404040"/><line x1="269.5" y1="463.9" x2="268.1" y2="464.4" stroke="#f0f0f0"/><line x1="269.2" y1="495.8" x2="267.1" y2="496" stroke="#333333"/><line x1="282.8" y1="481.6" x2="280.2" y2="482.6" stroke="#333333"/><line x1="285.7" y1="480.6" x2="286.7" y2="480.7" stroke="#4d4d4d"/><line x1="268.9" y1="472.2" x2="270.6" y2="473" stroke="#404040"/><line x1="262.9" y1="475.4" x2="264" y2="478.7" stroke="#5a5a5a"/><line x1="265.5" y1="478" x2="266.3" y2="478.8" stroke="#262626"/><line x1="262" y1="481.7" x2="263.6" y2="482.8" stroke="#f0f0f0"/><line x1="275.7" y1="500.1" x2="273.3" y2="500.5" stroke="#9a9a9a"/><line x1="268.9" y1="492.7" x2="268.2" y2="494.3" stroke="#262626"/><line x1="269.7" y1="474.1" x2="271.4" y2="476.4" stroke="#f0f0f0"/><line x1="263.3" y1="483.9" x2="263.7" y2="485.2" stroke="#333333"/><line x1="270.6" y1="468.5" x2="267.3" y2="469.5" stroke="#404040"/><line x1="257.2" y1="467.3" x2="259" y2="467.8" stroke="#262626"/><line x1="261" y1="470.3" x2="260.3" y2="473.4" stroke="#9a9a9a"/><line x1="267.5" y1="477.3" x2="267.3" y2="479.3" stroke="#404040"/><line x1="270.9" y1="487.1" x2="269.5" y2="487.8" stroke="#333333"/><line x1="261.3" y1="476.7" x2="261.9" y2="480" stroke="#d0d0d0"/><line x1="285.6" y1="480" x2="285.3" y2="481" stroke="#404040"/><line x1="261.3" y1="463.5" x2="263.4" y2="464.5" stroke="#5a5a5a"/><line x1="276.3" y1="493.3" x2="276.6" y2="495.7" stroke="#262626"/><line x1="286.5" y1="487.9" x2="287.3" y2="488.9" stroke="#333333"/><line x1="275.9" y1="490.3" x2="277" y2="490.7" stroke="#4d4d4d"/><line x1="273.9" y1="476.2" x2="275.8" y2="477.8" stroke="#262626"/><line x1="263.3" y1="479.5" x2="260.7" y2="479.8" stroke="#d0d0d0"/><line x1="269.8" y1="469.2" x2="272.3" y2="471.6" stroke="#9a9a9a"/><line x1="263.5" y1="459.5" x2="263.5" y2="462.2" stroke="#404040"/><line x1="267.8" y1="489.6" x2="270.2" y2="491.3" stroke="#9a9a9a"/><line x1="270.9" y1="467.8" x2="269.2" y2="468" stroke="#d0d0d0"/><line x1="260.7" y1="468.6" x2="259.4" y2="469.8" stroke="#f0f0f0"/><line x1="270.6" y1="467" x2="272.2" y2="468.3" stroke="#5a5a5a"/><line x1="266.8" y1="468.2" x2="265.4" y2="468.3" stroke="#262626"/><line x1="276.9" y1="475.7" x2="277.6" y2="477.4" stroke="#333333"/><line x1="259.8" y1="474.7" x2="257.2" y2="476.4" stroke="#404040"/><line x1="259.2" y1="475.1" x2="258.2" y2="475.4" stroke="#404040"/><line x1="282.4" y1="493.4" x2="283.5" y2="493.5" stroke="#262626"/><line x1="264.7" y1="470.9" x2="262.2" y2="471.2" stroke="#333333"/><line x1="278.9" y1="472.9" x2="279.5" y2="473.7" stroke="#9a9a9a"/><line x1="286.4" y1="487.3" x2="285.3" y2="487.5" stroke="#333333"/><line x1="261.4" y1="478.1" x2="261.5" y2="481.4" stroke="#333333"/><line x1="282.1" y1="492.1" x2="279.6" y2="493.7" stroke="#5a5a5a"/><line x1="264.3" y1="473" x2="265.5" y2="475.7" stroke="#262626"/><line x1="261.3" y1="461.4" x2="263.6" y2="461.7" stroke="#404040"/><line x1="255.2" y1="462.9" x2="255.2" y2="465.7" stroke="#404040"/><line x1="260.8" y1="477.5" x2="259.8" y2="480" stroke="#9a9a9a"/><line x1="283.8" y1="488.7" x2="286.6" y2="489.9" stroke="#333333"/><line x1="273.3" y1="475.5" x2="272.2" y2="476.6" stroke="#333333"/><line x1="261.2" y1="465.5" x2="258.9" y2="466.3" stroke="#404040"/><line x1="271" y1="469" x2="268.9" y2="470.5" stroke="#f0f0f0"/><line x1="263" y1="463.9" x2="265.9" y2="465.8" stroke="#5a5a5a"/><line x1="284.5" y1="478.9" x2="286.5" y2="481.1" stroke="#f0f0f0"/><line x1="275.2" y1="468.4" x2="275.8" y2="469.6" stroke="#333333"/><line x1="276.4" y1="467.8" x2="278.3" y2="467.8" stroke="#5a5a5a"/><line x1="258.9" y1="472.7" x2="261.3" y2="474.5" stroke="#4d4d4d"/><line x1="254.4" y1="463.1" x2="255.1" y2="465.4" stroke="#5a5a5a"/><line x1="255.4" y1="465.9" x2="254.3" y2="467.6" stroke="#333333"/><line x1="263.7" y1="484.3" x2="264.6" y2="486.1" stroke="#d0d0d0"/><line x1="285.8" y1="477.8" x2="284.1" y2="478.9" stroke="#d0d0d0"/><line x1="269.3" y1="465.9" x2="271.7" y2="466" stroke="#5a5a5a"/><line x1="275.3" y1="475.4" x2="275.3" y2="476.7" stroke="#333333"/><line x1="271.5" y1="500.6" x2="273.6" y2="501.4" stroke="#d0d0d0"/><line x1="275.3" y1="496" x2="277.9" y2="497.4" stroke="#333333"/><line x1="260.2" y1="476.7" x2="260.1" y2="478.6" stroke="#262626"/><line x1="273.1" y1="493" x2="276.2" y2="493.3" stroke="#262626"/><line x1="274.5" y1="483.5" x2="273.8" y2="485.2" stroke="#404040"/><line x1="273.8" y1="477.9" x2="272.8" y2="479.7" stroke="#404040"/><line x1="270.4" y1="469.2" x2="268.2" y2="471.2" stroke="#404040"/><line x1="256" y1="464.3" x2="256.3" y2="465.5" stroke="#404040"/><line x1="279.5" y1="493.9" x2="279.5" y2="495" stroke="#4d4d4d"/><line x1="261.9" y1="481.5" x2="262.4" y2="482.4" stroke="#333333"/><line x1="275.9" y1="474.9" x2="273.7" y2="475.8" stroke="#5a5a5a"/><line x1="289.2" y1="487.2" x2="290.2" y2="490" stroke="#333333"/><line x1="268.6" y1="466.5" x2="267.8" y2="467.4" stroke="#d0d0d0"/><line x1="276.9" y1="472.7" x2="278" y2="472.7" stroke="#262626"/><line x1="275.1" y1="478.2" x2="275" y2="481.4" stroke="#262626"/><line x1="265.3" y1="463.3" x2="266" y2="464.7" stroke="#5a5a5a"/><line x1="274.1" y1="467.8" x2="273.3" y2="469.8" stroke="#262626"/><line x1="257.6" y1="462.9" x2="256.3" y2="465.7" stroke="#9a9a9a"/><line x1="267.1" y1="470.5" x2="269.7" y2="470.6" stroke="#4d4d4d"/><line x1="265.1" y1="487.9" x2="265.7" y2="491.2" stroke="#9a9a9a"/><line x1="267.2" y1="469.3" x2="270.1" y2="469.9" stroke="#262626"/><line x1="272.7" y1="501.3" x2="274" y2="502" stroke="#5a5a5a"/><line x1="271" y1="487.7" x2="269.8" y2="488.5" stroke="#333333"/><line x1="263.3" y1="460.7" x2="260.5" y2="461.7" stroke="#9a9a9a"/><line x1="279.9" y1="479.7" x2="278.5" y2="481.2" stroke="#333333"/><line x1="255.9" y1="469.1" x2="257.8" y2="469.3" stroke="#9a9a9a"/><line x1="278.7" y1="470.6" x2="278.3" y2="472.7" stroke="#9a9a9a"/><line x1="271.6" y1="470.6" x2="270.1" y2="473.6" stroke="#333333"/><line x1="261.8" y1="469.2" x2="259.4" y2="471.7" stroke="#9a9a9a"/><line x1="264.3" y1="469.4" x2="261.9" y2="470.1" stroke="#9a9a9a"/><line x1="269.6" y1="496.7" x2="267.8" y2="499.3" stroke="#404040"/><line x1="279.2" y1="484.5" x2="280" y2="485.7" stroke="#5a5a5a"/><line x1="264.9" y1="465" x2="266" y2="465.1" stroke="#9a9a9a"/><line x1="275.8" y1="490.2" x2="275" y2="491.1" stroke="#5a5a5a"/><line x1="256" y1="467.9" x2="257" y2="468.2" stroke="#d0d0d0"/><line x1="282.5" y1="487.4" x2="280.3" y2="488.7" stroke="#333333"/><line x1="255.7" y1="463" x2="254.7" y2="464" stroke="#404040"/><line x1="261.6" y1="471.4" x2="260.4" y2="472.9" stroke="#404040"/><line x1="283.9" y1="486.6" x2="285.9" y2="486.8" stroke="#404040"/><line x1="281" y1="474.3" x2="279.6" y2="476.2" stroke="#333333"/><line x1="270.4" y1="494.8" x2="272.3" y2="496" stroke="#404040"/><line x1="270.7" y1="463.5" x2="270.2" y2="464.6" stroke="#9a9a9a"/><line x1="278.1" y1="494.3" x2="277.4" y2="496" stroke="#404040"/><line x1="270.8" y1="475.8" x2="269.3" y2="476.3" stroke="#404040"/><line x1="271.9" y1="492.8" x2="270.1" y2="494.7" stroke="#404040"/><line x1="264.2" y1="465.6" x2="261.9" y2="466.8" stroke="#9a9a9a"/><line x1="281" y1="484.9" x2="283" y2="485.7" stroke="#d0d0d0"/><line x1="260.9" y1="467.2" x2="262.5" y2="469.5" stroke="#d0d0d0"/><line x1="257.8" y1="465.6" x2="259.1" y2="466.9" stroke="#4d4d4d"/><line x1="258" y1="473.4" x2="260.9" y2="475.4" stroke="#9a9a9a"/><line x1="279.5" y1="478.3" x2="281.6" y2="479.8" stroke="#262626"/><line x1="259.7" y1="476.2" x2="261.7" y2="476.4" stroke="#d0d0d0"/><line x1="278" y1="481.3" x2="277.1" y2="483.2" stroke="#262626"/><line x1="274.6" y1="476.9" x2="272.4" y2="479.3" stroke="#404040"/><line x1="273.5" y1="492.6" x2="273.9" y2="494.1" stroke="#9a9a9a"/><line x1="277.5" y1="487.7" x2="277.7" y2="489.5" stroke="#5a5a5a"/><line x1="281.3" y1="490.9" x2="280.7" y2="492.4" stroke="#404040"/><line x1="269.1" y1="486.8" x2="269.8" y2="489.4" stroke="#f0f0f0"/><line x1="281.2" y1="476.2" x2="281.3" y2="479.6" stroke="#262626"/><line x1="272.4" y1="465.8" x2="269.8" y2="467.9" stroke="#4d4d4d"/><line x1="272.3" y1="491.1" x2="272.2" y2="493.7" stroke="#d0d0d0"/><line x1="271.6" y1="477.2" x2="270.1" y2="477.4" stroke="#9a9a9a"/><line x1="265.3" y1="461.1" x2="266.6" y2="462.6" stroke="#262626"/><line x1="267.7" y1="477.6" x2="266.6" y2="479.2" stroke="#333333"/><line x1="287.2" y1="482.5" x2="289.6" y2="484.4" stroke="#404040"/><line x1="260" y1="464.4" x2="257.6" y2="466.3" stroke="#5a5a5a"/><line x1="269.6" y1="484.1" x2="272.2" y2="486.3" stroke="#404040"/><line x1="276" y1="495.8" x2="274.1" y2="496.9" stroke="#333333"/><line x1="272.6" y1="464.2" x2="270.9" y2="465.1" stroke="#d0d0d0"/><line x1="262" y1="475.6" x2="263.5" y2="477.1" stroke="#333333"/><line x1="262.5" y1="469.6" x2="263.8" y2="471.4" stroke="#404040"/><line x1="275.9" y1="488.5" x2="277.3" y2="491.5" stroke="#d0d0d0"/><line x1="276.6" y1="469.9" x2="277.9" y2="470.3" stroke="#333333"/><line x1="281.1" y1="474.3" x2="284" y2="475.8" stroke="#d0d0d0"/><line x1="274.8" y1="494" x2="273.2" y2="496.8" stroke="#9a9a9a"/><line x1="278" y1="482.7" x2="276.5" y2="484.2" stroke="#d0d0d0"/><line x1="272.8" y1="470.5" x2="273.8" y2="471.4" stroke="#4d4d4d"/><line x1="270.7" y1="483" x2="269.8" y2="483.5" stroke="#d0d0d0"/><line x1="269.5" y1="484.1" x2="268" y2="486.8" stroke="#404040"/><line x1="274.9" y1="489.6" x2="273.1" y2="489.9" stroke="#f0f0f0"/><line x1="271.1" y1="480.6" x2="270.1" y2="480.9" stroke="#9a9a9a"/><line x1="275.4" y1="473.9" x2="273.7" y2="474.7" stroke="#4d4d4d"/><line x1="271.7" y1="493.6" x2="273.4" y2="494.8" stroke="#404040"/><line x1="272.8" y1="496.1" x2="274.6" y2="498.6" stroke="#404040"/><line x1="270.9" y1="470.9" x2="270.8" y2="474.3" stroke="#5a5a5a"/><line x1="281.7" y1="473.6" x2="282.6" y2="475" stroke="#5a5a5a"/><line x1="275.8" y1="494.2" x2="278.6" y2="494.5" stroke="#d0d0d0"/><line x1="274.8" y1="488.4" x2="272.2" y2="490.5" stroke="#5a5a5a"/><line x1="275.1" y1="487" x2="273.7" y2="489.1" stroke="#5a5a5a"/><line x1="269.2" y1="493.2" x2="270.6" y2="493.7" stroke="#262626"/><line x1="276.6" y1="475.3" x2="274.1" y2="476.9" stroke="#4d4d4d"/><line x1="261.7" y1="472.2" x2="262.1" y2="474" stroke="#404040"/><line x1="276.1" y1="501" x2="278.4" y2="501.4" stroke="#262626"/><line x1="273.6" y1="500.3" x2="273.7" y2="501.3" stroke="#404040"/><line x1="274.2" y1="501.2" x2="272" y2="501.3" stroke="#404040"/><line x1="260" y1="465.4" x2="261" y2="465.5" stroke="#5a5a5a"/><line x1="279" y1="469.5" x2="278" y2="470.6" stroke="#262626"/><line x1="281" y1="491" x2="278.5" y2="492.2" stroke="#262626"/><line x1="275.6" y1="490.8" x2="276" y2="494.1" stroke="#333333"/><line x1="276.4" y1="495.7" x2="278.1" y2="496.1" stroke="#9a9a9a"/><line x1="265.8" y1="484.7" x2="266.3" y2="487.3" stroke="#262626"/><line x1="281.9" y1="475" x2="280.8" y2="477.3" stroke="#404040"/><line x1="273.3" y1="471.8" x2="276.6" y2="472.5" stroke="#9a9a9a"/><line x1="283" y1="473.6" x2="281.9" y2="476.9" stroke="#d0d0d0"/><line x1="274.5" y1="472.5" x2="275.3" y2="475.7" stroke="#404040"/><line x1="277.7" y1="485.9" x2="274.8" y2="486.8" stroke="#333333"/><line x1="267.8" y1="485.2" x2="265.1" y2="487" stroke="#262626"/><line x1="284.5" y1="484.5" x2="286.6" y2="486.9" stroke="#d0d0d0"/><line x1="265" y1="462.4" x2="264.5" y2="465.3" stroke="#333333"/><line x1="277.4" y1="479.7" x2="278.7" y2="480.7" stroke="#9a9a9a"/><line x1="281.7" y1="479.4" x2="284.6" y2="480.2" stroke="#9a9a9a"/><line x1="271.6" y1="480.2" x2="271.2" y2="481.6" stroke="#333333"/><line x1="265.6" y1="484.2" x2="266.3" y2="486.4" stroke="#262626"/><line x1="266" y1="463.3" x2="264.8" y2="466" stroke="#262626"/><line x1="274.4" y1="474.2" x2="274.3" y2="475.2" stroke="#262626"/><line x1="270.2" y1="484.3" x2="272.2" y2="486.5" stroke="#404040"/><line x1="261.5" y1="460.2" x2="262.7" y2="461.1" stroke="#262626"/><line x1="284.7" y1="479.4" x2="281.4" y2="479.9" stroke="#262626"/><line x1="274.4" y1="476.6" x2="277.6" y2="477.8" stroke="#333333"/><line x1="273.2" y1="487.6" x2="270.5" y2="488" stroke="#404040"/><line x1="268.8" y1="465.8" x2="265.4" y2="466.1" stroke="#333333"/><line x1="278.6" y1="487.9" x2="277.5" y2="488" stroke="#262626"/><line x1="277.4" y1="472.1" x2="276.6" y2="474.9" stroke="#262626"/><line x1="264.1" y1="470.2" x2="266.2" y2="471" stroke="#333333"/><line x1="287.3" y1="526.4" x2="289.3" y2="527.3" stroke="#262626"/><line x1="279.6" y1="518.1" x2="281" y2="518.8" stroke="#262626"/><line x1="275.3" y1="511.2" x2="276.8" y2="512" stroke="#d0d0d0"/><line x1="274" y1="509.7" x2="270.5" y2="509.8" stroke="#f0f0f0"/><line x1="273.7" y1="511.9" x2="272.2" y2="512.3" stroke="#4d4d4d"/><line x1="272.8" y1="503.8" x2="270.7" y2="505.6" stroke="#333333"/><line x1="282.2" y1="520.6" x2="280.2" y2="522" stroke="#333333"/><line x1="273.3" y1="509.9" x2="273" y2="510.8" stroke="#4d4d4d"/><line x1="286.3" y1="525.7" x2="287.8" y2="528" stroke="#404040"/><line x1="287.5" y1="528.5" x2="287.5" y2="530.8" stroke="#4d4d4d"/><line x1="286.5" y1="528" x2="287.2" y2="529.9" stroke="#d0d0d0"/><line x1="276.7" y1="511.9" x2="273.7" y2="512.1" stroke="#f0f0f0"/><line x1="286.3" y1="525.1" x2="288.6" y2="525.5" stroke="#f0f0f0"/><line x1="278.4" y1="518.2" x2="279.4" y2="520.4" stroke="#262626"/><line x1="286.2" y1="526.3" x2="285.2" y2="526.7" stroke="#5a5a5a"/><line x1="275.5" y1="515.4" x2="273" y2="516" stroke="#333333"/><line x1="275.4" y1="512.9" x2="275.2" y2="514.3" stroke="#262626"/><line x1="272.6" y1="507.4" x2="273.1" y2="509" stroke="#333333"/><line x1="281.4" y1="518.8" x2="283.6" y2="520.5" stroke="#404040"/><line x1="287" y1="524.3" x2="286.8" y2="527.1" stroke="#9a9a9a"/><line x1="285.7" y1="525.9" x2="285" y2="527.8" stroke="#404040"/><line x1="279.2" y1="521.1" x2="280.4" y2="522.7" stroke="#4d4d4d"/><line x1="285.7" y1="525.2" x2="285.7" y2="527.3" stroke="#333333"/><line x1="286.8" y1="528.7" x2="288.4" y2="529.9" stroke="#f0f0f0"/><line x1="277.2" y1="517" x2="278.7" y2="520" stroke="#5a5a5a"/><line x1="276.9" y1="515" x2="275.7" y2="515.7" stroke="#404040"/><line x1="273.1" y1="507.3" x2="273" y2="509.5" stroke="#333333"/><line x1="281.7" y1="519.4" x2="283.6" y2="520.7" stroke="#4d4d4d"/><line x1="272.4" y1="503" x2="271.5" y2="503.9" stroke="#262626"/><line x1="277" y1="512.4" x2="277.4" y2="513.5" stroke="#d0d0d0"/><line x1="278.8" y1="517.8" x2="279.6" y2="518.6" stroke="#f0f0f0"/><line x1="274.4" y1="507.9" x2="272.4" y2="508.7" stroke="#d0d0d0"/><line x1="273.8" y1="507.1" x2="274.6" y2="507.8" stroke="#5a5a5a"/><line x1="286.7" y1="523.8" x2="288.4" y2="524.7" stroke="#9a9a9a"/><line x1="277.7" y1="519" x2="277.3" y2="520.8" stroke="#404040"/><line x1="271.7" y1="503.7" x2="270.1" y2="504.5" stroke="#5a5a5a"/><line x1="277.2" y1="514" x2="277.9" y2="514.9" stroke="#333333"/><line x1="285.5" y1="526.2" x2="284.3" y2="526.8" stroke="#333333"/><line x1="278.3" y1="519.1" x2="277.3" y2="520.4" stroke="#d0d0d0"/><line x1="277" y1="518.1" x2="278.1" y2="518.8" stroke="#f0f0f0"/><line x1="366.3" y1="537.7" x2="367.4" y2="537.8" stroke="#333333"/><line x1="314.2" y1="535" x2="316.9" y2="536.6" stroke="#4d4d4d"/><line x1="329.5" y1="536.6" x2="330" y2="537.5" stroke="#d0d0d0"/><line x1="324.4" y1="538.9" x2="323" y2="539.8" stroke="#262626"/><line x1="390.4" y1="536.9" x2="388.3" y2="539.1" stroke="#5a5a5a"/><line x1="361.9" y1="527.4" x2="361.8" y2="530.7" stroke="#262626"/><line x1="362.4" y1="541" x2="364.1" y2="542.7" stroke="#f0f0f0"/><line x1="354.4" y1="531.6" x2="355.2" y2="532.4" stroke="#404040"/><line x1="363" y1="536.1" x2="364.1" y2="537.2" stroke="#4d4d4d"/><line x1="330.7" y1="545.7" x2="331.5" y2="547.3" stroke="#d0d0d0"/><line x1="293.5" y1="532.3" x2="295" y2="534.9" stroke="#4d4d4d"/><line x1="358" y1="533.6" x2="358.3" y2="536.4" stroke="#d0d0d0"/><line x1="283.4" y1="522.1" x2="285.7" y2="523.7" stroke="#404040"/><line x1="289.9" y1="523.7" x2="290.1" y2="525.6" stroke="#333333"/><line x1="289.4" y1="529.6" x2="289.7" y2="531" stroke="#4d4d4d"/><line x1="355.3" y1="534.6" x2="352.7" y2="535.1" stroke="#333333"/><line x1="298.8" y1="535" x2="295.9" y2="536.5" stroke="#333333"/><line x1="298.7" y1="541.7" x2="299.7" y2="543.3" stroke="#4d4d4d"/><line x1="321.4" y1="541.9" x2="322.2" y2="542.7" stroke="#4d4d4d"/><line x1="353.3" y1="541.5" x2="351.3" y2="544.1" stroke="#f0f0f0"/><line x1="336.8" y1="530" x2="338.3" y2="530.8" stroke="#5a5a5a"/><line x1="296.1" y1="528" x2="294.9" y2="528.1" stroke="#262626"/><line x1="310.8" y1="535.8" x2="310.7" y2="537.9" stroke="#404040"/><line x1="330" y1="536" x2="327.2" y2="537.7" stroke="#333333"/><line x1="345.3" y1="524.5" x2="346.3" y2="525.2" stroke="#404040"/><line x1="352.2" y1="541.2" x2="354.9" y2="541.7" stroke="#5a5a5a"/><line x1="312.5" y1="532.6" x2="310.4" y2="532.9" stroke="#5a5a5a"/><line x1="299.2" y1="536.4" x2="299.4" y2="537.6" stroke="#5a5a5a"/><line x1="321.8" y1="532.9" x2="322.4" y2="535.2" stroke="#4d4d4d"/><line x1="298.2" y1="544" x2="298" y2="545.3" stroke="#d0d0d0"/><line x1="336.2" y1="531.9" x2="338" y2="533.5" stroke="#262626"/><line x1="339.1" y1="533.2" x2="341.1" y2="533.7" stroke="#262626"/><line x1="330.1" y1="543.1" x2="329.6" y2="545.8" stroke="#9a9a9a"/><line x1="345.3" y1="539.9" x2="347.9" y2="541.1" stroke="#262626"/><line x1="363" y1="527.3" x2="360.6" y2="528.2" stroke="#d0d0d0"/><line x1="369.9" y1="536.5" x2="368.8" y2="537.2" stroke="#404040"/><line x1="343.5" y1="540.9" x2="346.6" y2="542.1" stroke="#5a5a5a"/><line x1="331" y1="542.2" x2="330.6" y2="543.4" stroke="#262626"/><line x1="298.8" y1="532" x2="300.5" y2="534.1" stroke="#404040"/><line x1="342.2" y1="536.8" x2="339.4" y2="538.7" stroke="#262626"/><line x1="337.7" y1="543.4" x2="336.8" y2="544.1" stroke="#333333"/><line x1="376.7" y1="536.5" x2="377.4" y2="538.5" stroke="#333333"/><line x1="383.4" y1="534" x2="385.2" y2="534.4" stroke="#333333"/><line x1="386" y1="533.2" x2="387.4" y2="533.4" stroke="#404040"/><line x1="333.5" y1="532.8" x2="334.2" y2="534.5" stroke="#262626"/><line x1="347.2" y1="524" x2="349.4" y2="524.2" stroke="#f0f0f0"/><line x1="358.5" y1="521.8" x2="360" y2="523.5" stroke="#333333"/><line x1="346" y1="531" x2="342.5" y2="531.5" stroke="#262626"/><line x1="345" y1="539.8" x2="342.3" y2="540.9" stroke="#5a5a5a"/><line x1="354.1" y1="525.1" x2="356" y2="527.4" stroke="#d0d0d0"/><line x1="391.5" y1="536.5" x2="393.1" y2="538.9" stroke="#9a9a9a"/><line x1="338.6" y1="534.9" x2="339.7" y2="537" stroke="#404040"/><line x1="283.4" y1="524.1" x2="285.3" y2="527.1" stroke="#4d4d4d"/><line x1="330.8" y1="532.5" x2="331.6" y2="533.6" stroke="#262626"/><line x1="365.4" y1="531.8" x2="363.6" y2="532.2" stroke="#f0f0f0"/><line x1="298" y1="532.9" x2="296.1" y2="533" stroke="#9a9a9a"/><line x1="328.7" y1="543.3" x2="330.8" y2="543.7" stroke="#f0f0f0"/><line x1="278.8" y1="517.9" x2="280.7" y2="520" stroke="#333333"/><line x1="350.2" y1="543.1" x2="349.5" y2="544.4" stroke="#9a9a9a"/><line x1="394.5" y1="533.6" x2="397.4" y2="534.4" stroke="#d0d0d0"/><line x1="299.1" y1="531.3" x2="296.7" y2="532.3" stroke="#f0f0f0"/><line x1="368.2" y1="535.4" x2="369" y2="537.9" stroke="#404040"/><line x1="283.1" y1="526.9" x2="285.6" y2="527.3" stroke="#404040"/><line x1="336.8" y1="533.5" x2="338.3" y2="535.1" stroke="#262626"/><line x1="351.5" y1="538.1" x2="352.1" y2="539.1" stroke="#262626"/><line x1="293.5" y1="539.6" x2="296.5" y2="540.5" stroke="#404040"/><line x1="342.3" y1="533.2" x2="341.8" y2="535.8" stroke="#5a5a5a"/><line x1="316.7" y1="538.7" x2="318.6" y2="540.7" stroke="#9a9a9a"/><line x1="334.5" y1="535.6" x2="333.1" y2="536.8" stroke="#f0f0f0"/><line x1="304.1" y1="539.2" x2="305.1" y2="539.5" stroke="#262626"/><line x1="354.2" y1="524.4" x2="352.5" y2="525.7" stroke="#404040"/><line x1="355.4" y1="526.5" x2="354.3" y2="526.9" stroke="#4d4d4d"/><line x1="326.4" y1="545.1" x2="323.9" y2="545.5" stroke="#333333"/><line x1="301" y1="539.3" x2="300.2" y2="540.9" stroke="#f0f0f0"/><line x1="302.6" y1="532.5" x2="305.4" y2="534" stroke="#d0d0d0"/><line x1="308.9" y1="539.1" x2="307.4" y2="540" stroke="#404040"/><line x1="335.7" y1="544.1" x2="338.1" y2="545.4" stroke="#5a5a5a"/><line x1="331.7" y1="532.9" x2="330.3" y2="533.4" stroke="#d0d0d0"/><line x1="320.3" y1="540.1" x2="319" y2="540.7" stroke="#d0d0d0"/><line x1="279" y1="516" x2="278" y2="516.1" stroke="#f0f0f0"/><line x1="294.5" y1="538.5" x2="295.9" y2="538.9" stroke="#5a5a5a"/><line x1="287.1" y1="524.2" x2="284.4" y2="524.9" stroke="#d0d0d0"/><line x1="304.9" y1="540.5" x2="304.2" y2="541.4" stroke="#4d4d4d"/><line x1="366.8" y1="530" x2="368.6" y2="530.7" stroke="#4d4d4d"/><line x1="384.6" y1="538.3" x2="385.6" y2="539.4" stroke="#333333"/><line x1="338.6" y1="526.7" x2="338.2" y2="528.6" stroke="#262626"/><line x1="360.6" y1="535.5" x2="360.3" y2="537.9" stroke="#9a9a9a"/><line x1="364.3" y1="526.4" x2="365.4" y2="528.1" stroke="#f0f0f0"/><line x1="307.3" y1="534" x2="307.9" y2="535.5" stroke="#333333"/><line x1="315.9" y1="535.3" x2="315.6" y2="537" stroke="#f0f0f0"/><line x1="304.8" y1="534.7" x2="303.5" y2="536.1" stroke="#9a9a9a"/><line x1="324.4" y1="530.9" x2="323.5" y2="533.5" stroke="#404040"/><line x1="353.4" y1="531.6" x2="355.3" y2="533.2" stroke="#333333"/><line x1="364.8" y1="530.8" x2="364.9" y2="532.3" stroke="#262626"/><line x1="340.4" y1="531" x2="339.1" y2="531.9" stroke="#333333"/><line x1="354.8" y1="541.8" x2="351.8" y2="542.8" stroke="#262626"/><line x1="322.9" y1="542" x2="321.8" y2="542.7" stroke="#262626"/><line x1="319.9" y1="540.9" x2="319.7" y2="543" stroke="#262626"/><line x1="361.5" y1="528.2" x2="361.7" y2="531.2" stroke="#9a9a9a"/><line x1="294.4" y1="536.5" x2="295.4" y2="538.6" stroke="#333333"/><line x1="300.7" y1="532.5" x2="302.1" y2="532.8" stroke="#9a9a9a"/><line x1="305.7" y1="542" x2="308.2" y2="542.8" stroke="#d0d0d0"/><line x1="373.5" y1="534.2" x2="373.9" y2="535.3" stroke="#404040"/><line x1="321.2" y1="537.7" x2="322.4" y2="539.3" stroke="#5a5a5a"/><line x1="323.4" y1="532.8" x2="322" y2="533.2" stroke="#f0f0f0"/><line x1="363.6" y1="525.4" x2="362.7" y2="527" stroke="#262626"/><line x1="369" y1="525.7" x2="368.8" y2="527.9" stroke="#f0f0f0"/><line x1="348.9" y1="528.7" x2="349.3" y2="531.7" stroke="#404040"/><line x1="334.3" y1="544.1" x2="334.7" y2="546.2" stroke="#4d4d4d"/><line x1="377.4" y1="536.1" x2="376.1" y2="537.6" stroke="#262626"/><line x1="359.6" y1="531.9" x2="357.4" y2="533.9" stroke="#262626"/><line x1="359.8" y1="537.6" x2="359.8" y2="538.7" stroke="#9a9a9a"/><line x1="327.4" y1="533" x2="324.4" y2="533" stroke="#d0d0d0"/><line x1="293.9" y1="524" x2="293.8" y2="525" stroke="#f0f0f0"/><line x1="338.9" y1="527.1" x2="340.6" y2="527.4" stroke="#d0d0d0"/><line x1="336.1" y1="533" x2="337.4" y2="535.8" stroke="#333333"/><line x1="282.3" y1="523.3" x2="282.1" y2="525.3" stroke="#4d4d4d"/><line x1="363.4" y1="540.9" x2="362.8" y2="542.9" stroke="#f0f0f0"/><line x1="330.7" y1="543.6" x2="332.8" y2="544" stroke="#5a5a5a"/><line x1="345" y1="540.8" x2="345" y2="543.5" stroke="#5a5a5a"/><line x1="327" y1="535.7" x2="329.3" y2="538.1" stroke="#9a9a9a"/><line x1="304.6" y1="533" x2="305.9" y2="535" stroke="#262626"/><line x1="322.7" y1="535.1" x2="324.5" y2="536.6" stroke="#262626"/><line x1="333.1" y1="538.2" x2="333.7" y2="540.8" stroke="#262626"/><line x1="368.3" y1="529.9" x2="367.1" y2="530.1" stroke="#4d4d4d"/><line x1="382.3" y1="533.5" x2="382.1" y2="534.7" stroke="#262626"/><line x1="309.4" y1="544.2" x2="308" y2="544.9" stroke="#f0f0f0"/><line x1="392.2" y1="535.6" x2="394" y2="535.9" stroke="#404040"/><line x1="306.4" y1="538.7" x2="308.9" y2="540.3" stroke="#333333"/><line x1="287.8" y1="531.9" x2="285.8" y2="533.4" stroke="#404040"/><line x1="288" y1="535.3" x2="290.2" y2="536.3" stroke="#404040"/><line x1="322.1" y1="535.9" x2="323.3" y2="536.6" stroke="#f0f0f0"/><line x1="316.8" y1="542.3" x2="314.8" y2="543.2" stroke="#262626"/><line x1="290.4" y1="529.9" x2="290.3" y2="531.1" stroke="#404040"/><line x1="296.2" y1="531.3" x2="296.1" y2="533.2" stroke="#333333"/><line x1="373.3" y1="532.5" x2="372.4" y2="533.8" stroke="#9a9a9a"/><line x1="349.2" y1="540.2" x2="348.5" y2="541.1" stroke="#333333"/><line x1="361.1" y1="541.3" x2="362.5" y2="544" stroke="#404040"/><line x1="306.1" y1="538.4" x2="305.4" y2="539.6" stroke="#404040"/><line x1="373.4" y1="529.3" x2="373.4" y2="532.2" stroke="#f0f0f0"/><line x1="368.4" y1="534.9" x2="370.5" y2="536.4" stroke="#d0d0d0"/><line x1="364.2" y1="524.6" x2="367.2" y2="526.2" stroke="#5a5a5a"/><line x1="387.3" y1="538.8" x2="384.7" y2="540.3" stroke="#5a5a5a"/><line x1="329.5" y1="541.7" x2="327.1" y2="543.7" stroke="#333333"/><line x1="307" y1="542.2" x2="308.1" y2="543.2" stroke="#404040"/><line x1="305.1" y1="529.7" x2="302.5" y2="530.5" stroke="#9a9a9a"/><line x1="324.2" y1="540.2" x2="322.1" y2="541.9" stroke="#f0f0f0"/><line x1="349.2" y1="542.1" x2="348.4" y2="542.7" stroke="#4d4d4d"/><line x1="278" y1="516" x2="276.3" y2="517.1" stroke="#5a5a5a"/><line x1="379.9" y1="534.3" x2="380.6" y2="535.3" stroke="#333333"/><line x1="362.2" y1="527.9" x2="360.8" y2="530.6" stroke="#262626"/><line x1="309.4" y1="546.5" x2="310" y2="547.9" stroke="#d0d0d0"/><line x1="351.1" y1="544.2" x2="351.8" y2="546.3" stroke="#f0f0f0"/><line x1="299.3" y1="541.9" x2="301.3" y2="543" stroke="#262626"/><line x1="331.9" y1="541.1" x2="333.2" y2="542.5" stroke="#262626"/><line x1="344" y1="543" x2="343.9" y2="545" stroke="#f0f0f0"/><line x1="385.9" y1="536" x2="388.4" y2="536.6" stroke="#404040"/><line x1="357.3" y1="534.7" x2="358.2" y2="536.9" stroke="#5a5a5a"/><line x1="320.7" y1="547.1" x2="323.8" y2="547.7" stroke="#5a5a5a"/><line x1="344.6" y1="528.1" x2="342.3" y2="530.4" stroke="#9a9a9a"/><line x1="293.8" y1="533.2" x2="293.5" y2="534.2" stroke="#404040"/><line x1="367.9" y1="535.1" x2="369.8" y2="537.3" stroke="#333333"/><line x1="342.9" y1="527.1" x2="340.3" y2="527.3" stroke="#d0d0d0"/><line x1="359.2" y1="525.7" x2="356.5" y2="526" stroke="#9a9a9a"/><line x1="346.7" y1="541.7" x2="345.3" y2="542.9" stroke="#262626"/><line x1="339.5" y1="543.6" x2="342" y2="545" stroke="#333333"/><line x1="301.1" y1="544.7" x2="301.6" y2="547.8" stroke="#5a5a5a"/><line x1="294.7" y1="539.3" x2="294.9" y2="541.6" stroke="#5a5a5a"/><line x1="320.6" y1="545" x2="320.5" y2="546.7" stroke="#5a5a5a"/><line x1="307.9" y1="539.8" x2="311" y2="540.2" stroke="#4d4d4d"/><line x1="319.5" y1="545.8" x2="320.6" y2="547" stroke="#262626"/><line x1="343.5" y1="539.1" x2="342.4" y2="540.9" stroke="#d0d0d0"/><line x1="289.7" y1="523.1" x2="288.2" y2="526.1" stroke="#5a5a5a"/><line x1="361.1" y1="539.9" x2="362.2" y2="543.1" stroke="#9a9a9a"/><line x1="298.8" y1="543.4" x2="298.6" y2="545.7" stroke="#5a5a5a"/><line x1="326.8" y1="530.1" x2="324.4" y2="531.3" stroke="#4d4d4d"/><line x1="325.7" y1="532.7" x2="327.7" y2="535" stroke="#9a9a9a"/><line x1="358.6" y1="539.1" x2="358.6" y2="542.4" stroke="#f0f0f0"/><line x1="367.4" y1="541.6" x2="365.9" y2="544.4" stroke="#262626"/><line x1="362.6" y1="537.3" x2="362" y2="538.9" stroke="#262626"/><line x1="350.2" y1="541.7" x2="351.2" y2="542.8" stroke="#333333"/><line x1="320.2" y1="537.2" x2="323.3" y2="537.9" stroke="#404040"/><line x1="283.3" y1="528" x2="282.8" y2="531" stroke="#262626"/><line x1="303.6" y1="534.7" x2="304.5" y2="536.3" stroke="#4d4d4d"/><line x1="302.8" y1="540.6" x2="305.3" y2="542.5" stroke="#d0d0d0"/><line x1="338.1" y1="527.3" x2="340.6" y2="527.8" stroke="#9a9a9a"/><line x1="347.9" y1="526.4" x2="347.9" y2="528.9" stroke="#333333"/><line x1="316.5" y1="547.5" x2="318.7" y2="548" stroke="#262626"/><line x1="331.8" y1="536.6" x2="330.5" y2="538.3" stroke="#404040"/><line x1="366.5" y1="530.6" x2="366.8" y2="532.1" stroke="#9a9a9a"/><line x1="344.9" y1="537.2" x2="342.1" y2="537.5" stroke="#f0f0f0"/><line x1="389.2" y1="538" x2="388.4" y2="538.9" stroke="#333333"/><line x1="364.8" y1="534.7" x2="366.1" y2="536.1" stroke="#333333"/><line x1="371.6" y1="529" x2="368.4" y2="529.1" stroke="#d0d0d0"/><line x1="334.6" y1="541.6" x2="335.7" y2="542.1" stroke="#4d4d4d"/><line x1="387.8" y1="537.6" x2="384.4" y2="538.2" stroke="#404040"/><line x1="366.1" y1="525.8" x2="363.5" y2="527.6" stroke="#262626"/><line x1="348" y1="525.6" x2="351.1" y2="525.7" stroke="#9a9a9a"/><line x1="284.7" y1="523.6" x2="283.5" y2="526.6" stroke="#4d4d4d"/><line x1="305.9" y1="544.6" x2="306.4" y2="545.8" stroke="#5a5a5a"/><line x1="332.1" y1="533.1" x2="331" y2="535.6" stroke="#404040"/><line x1="325.2" y1="536.2" x2="324.2" y2="537.5" stroke="#5a5a5a"/><line x1="361.1" y1="529" x2="364.1" y2="530.4" stroke="#5a5a5a"/><line x1="283.7" y1="520.6" x2="282.1" y2="520.7" stroke="#404040"/><line x1="354" y1="538.7" x2="355.2" y2="538.8" stroke="#f0f0f0"/><line x1="282" y1="520.7" x2="280.5" y2="521" stroke="#5a5a5a"/><line x1="390.4" y1="535" x2="388.8" y2="535.4" stroke="#262626"/><line x1="352.2" y1="533.4" x2="351.3" y2="534.1" stroke="#262626"/><line x1="343.1" y1="522.5" x2="343.4" y2="523.4" stroke="#9a9a9a"/><line x1="291" y1="535.4" x2="292.7" y2="536.7" stroke="#262626"/><line x1="361.2" y1="533.6" x2="361" y2="535.7" stroke="#404040"/><line x1="351.2" y1="535.3" x2="348.4" y2="536.1" stroke="#d0d0d0"/><line x1="359.7" y1="542.6" x2="360.4" y2="545.7" stroke="#333333"/><line x1="304.4" y1="543.9" x2="302.6" y2="544.4" stroke="#9a9a9a"/><line x1="373.7" y1="531.2" x2="376.6" y2="532.1" stroke="#333333"/><line x1="353.1" y1="525.2" x2="352.7" y2="528.6" stroke="#333333"/><line x1="341.3" y1="535.4" x2="340.9" y2="538.7" stroke="#404040"/><line x1="388.4" y1="536.8" x2="387.2" y2="537" stroke="#333333"/><line x1="311.3" y1="544.6" x2="313" y2="544.7" stroke="#9a9a9a"/><line x1="329.9" y1="536.7" x2="328.3" y2="539.1" stroke="#9a9a9a"/><line x1="394.6" y1="535.2" x2="393.9" y2="537.7" stroke="#5a5a5a"/><line x1="361.5" y1="522.9" x2="362.6" y2="523.2" stroke="#262626"/><line x1="289.9" y1="529.8" x2="287.2" y2="530" stroke="#333333"/><line x1="288.3" y1="522.9" x2="289.1" y2="525.5" stroke="#404040"/><line x1="358.5" y1="522" x2="360" y2="522" stroke="#f0f0f0"/><line x1="295.4" y1="535.7" x2="294.7" y2="538.3" stroke="#333333"/><line x1="356.2" y1="532.5" x2="357.1" y2="533.3" stroke="#262626"/><line x1="321" y1="530.8" x2="322.6" y2="531.4" stroke="#d0d0d0"/><line x1="354.9" y1="529" x2="353.9" y2="529.4" stroke="#5a5a5a"/><line x1="290.2" y1="528.6" x2="289.5" y2="529.5" stroke="#262626"/><line x1="367.5" y1="532.3" x2="364.4" y2="533.6" stroke="#d0d0d0"/><line x1="297" y1="543.1" x2="297.9" y2="543.9" stroke="#333333"/><line x1="301.3" y1="535.9" x2="301.8" y2="537" stroke="#f0f0f0"/><line x1="333.8" y1="538.7" x2="333.7" y2="540.2" stroke="#4d4d4d"/><line x1="350.4" y1="535.4" x2="353.1" y2="536.8" stroke="#f0f0f0"/><line x1="321.2" y1="544.5" x2="322.5" y2="545.3" stroke="#5a5a5a"/><line x1="299.6" y1="539" x2="298.7" y2="542.2" stroke="#404040"/><line x1="334.7" y1="530.4" x2="332.5" y2="530.8" stroke="#f0f0f0"/><line x1="303.8" y1="546.6" x2="304.9" y2="548.3" stroke="#404040"/><line x1="350.7" y1="521.3" x2="351.1" y2="523.7" stroke="#9a9a9a"/><line x1="340.2" y1="532.9" x2="339.2" y2="533.3" stroke="#333333"/><line x1="296.6" y1="533.1" x2="296.9" y2="535.1" stroke="#d0d0d0"/><line x1="357.4" y1="543" x2="355.7" y2="543.2" stroke="#f0f0f0"/><line x1="311.5" y1="546.8" x2="309.7" y2="547.6" stroke="#4d4d4d"/><line x1="356.4" y1="530.5" x2="357.9" y2="531" stroke="#5a5a5a"/><line x1="348.1" y1="540.8" x2="344.9" y2="541.9" stroke="#333333"/><line x1="361.1" y1="521.2" x2="362.5" y2="522.5" stroke="#4d4d4d"/><line x1="367.2" y1="534.5" x2="367.4" y2="537.1" stroke="#d0d0d0"/><line x1="359.4" y1="537.5" x2="358.7" y2="538.8" stroke="#f0f0f0"/><line x1="304.6" y1="538.5" x2="305.7" y2="540.9" stroke="#9a9a9a"/><line x1="280.4" y1="516.9" x2="281" y2="518.9" stroke="#262626"/><line x1="347" y1="524.8" x2="345.7" y2="526.5" stroke="#333333"/><line x1="321.5" y1="546.6" x2="319.2" y2="548.7" stroke="#5a5a5a"/><line x1="354.1" y1="537.4" x2="352.6" y2="537.5" stroke="#9a9a9a"/><line x1="377.1" y1="533.6" x2="374.2" y2="535.1" stroke="#5a5a5a"/><line x1="341.8" y1="538.1" x2="342.6" y2="539" stroke="#262626"/><line x1="297.3" y1="537.1" x2="298.9" y2="537.1" stroke="#333333"/><line x1="278.4" y1="516.1" x2="275" y2="516.8" stroke="#262626"/><line x1="317.2" y1="530.8" x2="318.3" y2="532.5" stroke="#4d4d4d"/><line x1="287.2" y1="534.5" x2="286.3" y2="535.8" stroke="#d0d0d0"/><line x1="365.6" y1="524.3" x2="365.7" y2="525.8" stroke="#f0f0f0"/><line x1="294.9" y1="536.9" x2="295.9" y2="539.5" stroke="#333333"/><line x1="374" y1="540.9" x2="376.4" y2="541.6" stroke="#333333"/><line x1="363.1" y1="540.9" x2="361.8" y2="541.9" stroke="#262626"/><line x1="357.6" y1="532.3" x2="358.9" y2="533" stroke="#5a5a5a"/><line x1="289.3" y1="534.8" x2="290.5" y2="536" stroke="#404040"/><line x1="341.6" y1="538.1" x2="344.4" y2="538.4" stroke="#333333"/><line x1="311.8" y1="535" x2="310.3" y2="537.1" stroke="#f0f0f0"/><line x1="357.5" y1="521.4" x2="358.9" y2="522.1" stroke="#9a9a9a"/><line x1="377.7" y1="537.8" x2="374.8" y2="538.2" stroke="#333333"/><line x1="314.8" y1="538" x2="317.3" y2="538.4" stroke="#262626"/><line x1="338.3" y1="530.8" x2="339.5" y2="533.3" stroke="#4d4d4d"/><line x1="284.6" y1="525.9" x2="284.7" y2="527.6" stroke="#5a5a5a"/><line x1="334.7" y1="537.6" x2="333.2" y2="538.9" stroke="#404040"/><line x1="332.1" y1="534.9" x2="332.8" y2="535.8" stroke="#f0f0f0"/><line x1="333.3" y1="534.3" x2="334" y2="535.2" stroke="#9a9a9a"/><line x1="370.8" y1="527.7" x2="372.7" y2="528.3" stroke="#262626"/><line x1="311.4" y1="539.6" x2="312.6" y2="540.2" stroke="#262626"/><line x1="296.2" y1="531.1" x2="294.9" y2="531.9" stroke="#333333"/><line x1="370.1" y1="527.3" x2="370.7" y2="528.5" stroke="#333333"/><line x1="307.9" y1="538.7" x2="304.9" y2="539.8" stroke="#404040"/><line x1="393.6" y1="533.7" x2="395" y2="535.4" stroke="#9a9a9a"/><line x1="297.3" y1="538.8" x2="298" y2="540.1" stroke="#404040"/><line x1="369.9" y1="533.8" x2="366.7" y2="534.9" stroke="#404040"/><line x1="303.9" y1="544.7" x2="304.7" y2="547.2" stroke="#d0d0d0"/><line x1="368.8" y1="541.3" x2="370.7" y2="543.2" stroke="#404040"/><line x1="342.3" y1="524.1" x2="340.7" y2="525.1" stroke="#d0d0d0"/><line x1="367.5" y1="536.4" x2="367" y2="537.4" stroke="#d0d0d0"/><line x1="343.4" y1="528.4" x2="344.8" y2="531" stroke="#9a9a9a"/><line x1="288.3" y1="523.8" x2="291.3" y2="524" stroke="#333333"/><line x1="314.1" y1="534.8" x2="312.1" y2="535.5" stroke="#f0f0f0"/><line x1="383.5" y1="532.6" x2="385.8" y2="533.4" stroke="#d0d0d0"/><line x1="339.8" y1="529.4" x2="340.6" y2="532.5" stroke="#5a5a5a"/><line x1="320.7" y1="546.5" x2="319.9" y2="547.6" stroke="#f0f0f0"/><line x1="329.2" y1="537.8" x2="329.5" y2="539" stroke="#4d4d4d"/><line x1="376.9" y1="540.4" x2="377.6" y2="541.8" stroke="#9a9a9a"/><line x1="316.5" y1="538.4" x2="318.4" y2="539.7" stroke="#4d4d4d"/><line x1="345" y1="540.6" x2="347.8" y2="542.4" stroke="#4d4d4d"/><line x1="320.5" y1="545.3" x2="321.3" y2="545.9" stroke="#4d4d4d"/><line x1="293.7" y1="534.7" x2="292" y2="535.9" stroke="#5a5a5a"/><line x1="327.7" y1="530.5" x2="327.8" y2="531.7" stroke="#262626"/><line x1="317.8" y1="537.8" x2="316.7" y2="538.9" stroke="#333333"/><line x1="300.8" y1="533.1" x2="299" y2="535.3" stroke="#9a9a9a"/><line x1="363.4" y1="521.8" x2="360.5" y2="523.4" stroke="#262626"/><line x1="374" y1="536.4" x2="376" y2="537.3" stroke="#5a5a5a"/><line x1="326.4" y1="534.3" x2="327.3" y2="535.4" stroke="#333333"/><line x1="298.6" y1="529.3" x2="299.2" y2="532.6" stroke="#4d4d4d"/><line x1="300.3" y1="533.3" x2="301.6" y2="533.9" stroke="#262626"/><line x1="361" y1="526.1" x2="363.8" y2="527.6" stroke="#4d4d4d"/><line x1="365.6" y1="524.8" x2="364.3" y2="527.8" stroke="#404040"/><line x1="344.2" y1="535.9" x2="341.9" y2="538.4" stroke="#262626"/><line x1="321" y1="542.7" x2="319" y2="544.2" stroke="#5a5a5a"/><line x1="317.8" y1="546" x2="317.5" y2="548" stroke="#333333"/><line x1="354.6" y1="529.2" x2="355.6" y2="530.9" stroke="#5a5a5a"/><line x1="320.6" y1="544.9" x2="320.4" y2="546.5" stroke="#404040"/><line x1="308.5" y1="538.4" x2="306.4" y2="540.9" stroke="#f0f0f0"/><line x1="383.4" y1="539.1" x2="382.3" y2="542.4" stroke="#262626"/><line x1="350.9" y1="536.2" x2="349" y2="536.4" stroke="#f0f0f0"/><line x1="319.2" y1="538.5" x2="321.5" y2="539" stroke="#5a5a5a"/><line x1="373.3" y1="532.7" x2="373.8" y2="535.9" stroke="#5a5a5a"/><line x1="323.1" y1="536.9" x2="326.2" y2="536.9" stroke="#9a9a9a"/><line x1="358.3" y1="532.5" x2="357" y2="534" stroke="#f0f0f0"/><line x1="351.7" y1="523.4" x2="352.3" y2="524.9" stroke="#f0f0f0"/><line x1="373.4" y1="540.4" x2="370.5" y2="542.2" stroke="#9a9a9a"/><line x1="315.1" y1="539.3" x2="316.9" y2="541.1" stroke="#333333"/><line x1="309.8" y1="545.2" x2="313.1" y2="546.1" stroke="#9a9a9a"/><line x1="294.3" y1="539.4" x2="293.6" y2="542.6" stroke="#5a5a5a"/><line x1="328.6" y1="545.6" x2="331.4" y2="546.4" stroke="#262626"/><line x1="365.8" y1="535.4" x2="368" y2="536" stroke="#9a9a9a"/><line x1="302.4" y1="535.6" x2="303.6" y2="537" stroke="#f0f0f0"/><line x1="328.5" y1="532.6" x2="326.1" y2="534.2" stroke="#404040"/><line x1="293.8" y1="536.5" x2="297.2" y2="537" stroke="#4d4d4d"/><line x1="354.3" y1="525.6" x2="356.5" y2="527.7" stroke="#262626"/><line x1="333.7" y1="537.9" x2="332.5" y2="539.3" stroke="#f0f0f0"/><line x1="298.9" y1="530" x2="299.6" y2="531.2" stroke="#f0f0f0"/><line x1="334.3" y1="540.3" x2="336.6" y2="542.6" stroke="#333333"/><line x1="387.5" y1="534.1" x2="384.6" y2="534.3" stroke="#5a5a5a"/><line x1="341.6" y1="542.8" x2="341.8" y2="544" stroke="#f0f0f0"/><line x1="375.1" y1="536.6" x2="374" y2="537.7" stroke="#404040"/><line x1="360.1" y1="531.9" x2="360.5" y2="533.3" stroke="#262626"/><line x1="333.8" y1="529.8" x2="335.1" y2="531.2" stroke="#4d4d4d"/><line x1="369.7" y1="533.2" x2="372.5" y2="534.8" stroke="#404040"/><line x1="293.3" y1="533" x2="291.3" y2="533.2" stroke="#4d4d4d"/><line x1="311" y1="534.7" x2="310.3" y2="538" stroke="#9a9a9a"/><line x1="320.6" y1="546.2" x2="319.6" y2="548.3" stroke="#d0d0d0"/><line x1="358.4" y1="525" x2="357.8" y2="526.6" stroke="#f0f0f0"/><line x1="306" y1="547" x2="307" y2="547.2" stroke="#4d4d4d"/><line x1="301.3" y1="530.3" x2="304.2" y2="531.4" stroke="#5a5a5a"/><line x1="398" y1="536.4" x2="397.4" y2="537.2" stroke="#262626"/><line x1="314.5" y1="532.5" x2="316.5" y2="532.5" stroke="#f0f0f0"/><line x1="348.5" y1="541.7" x2="350" y2="541.7" stroke="#333333"/><line x1="315.8" y1="546.8" x2="316.6" y2="549.4" stroke="#262626"/><line x1="320.8" y1="535.8" x2="317.4" y2="536.3" stroke="#f0f0f0"/><line x1="352.7" y1="535.5" x2="355.1" y2="536.9" stroke="#4d4d4d"/><line x1="320.2" y1="544.4" x2="321.1" y2="545.4" stroke="#333333"/><line x1="294.4" y1="533.2" x2="293.2" y2="534" stroke="#4d4d4d"/><line x1="346.7" y1="532.2" x2="347.3" y2="534.4" stroke="#262626"/><line x1="283.1" y1="527.2" x2="285.3" y2="529.2" stroke="#333333"/><line x1="287.4" y1="529.2" x2="288" y2="530.9" stroke="#9a9a9a"/><line x1="303.3" y1="536.1" x2="301.5" y2="537.2" stroke="#4d4d4d"/><line x1="389.6" y1="533.7" x2="390.6" y2="534.4" stroke="#262626"/><line x1="355.8" y1="527.2" x2="357.1" y2="529.1" stroke="#f0f0f0"/><line x1="387.9" y1="537.4" x2="388.2" y2="538.8" stroke="#262626"/><line x1="364.2" y1="530.4" x2="366.5" y2="531.7" stroke="#404040"/><line x1="325.3" y1="536.8" x2="325.6" y2="538.1" stroke="#262626"/><line x1="337.8" y1="529.6" x2="340" y2="531.1" stroke="#4d4d4d"/><line x1="360.3" y1="537.1" x2="359.5" y2="540.4" stroke="#262626"/><line x1="364" y1="540.8" x2="365.7" y2="541.5" stroke="#262626"/><line x1="347.7" y1="538" x2="349" y2="540.5" stroke="#404040"/><line x1="363.6" y1="522" x2="361.5" y2="522.1" stroke="#262626"/><line x1="382.4" y1="534.9" x2="385.2" y2="536.4" stroke="#9a9a9a"/><line x1="290.2" y1="525.7" x2="289.7" y2="526.6" stroke="#262626"/><line x1="319.5" y1="543.5" x2="317.7" y2="543.5" stroke="#f0f0f0"/><line x1="339.8" y1="529.4" x2="340.8" y2="531.1" stroke="#4d4d4d"/><line x1="338" y1="527.1" x2="337.3" y2="528.3" stroke="#4d4d4d"/><line x1="309.9" y1="539.7" x2="308.2" y2="542.1" stroke="#4d4d4d"/><line x1="306.6" y1="545.3" x2="306.6" y2="547.3" stroke="#333333"/><line x1="325.4" y1="537.5" x2="323.6" y2="538.7" stroke="#9a9a9a"/><line x1="302.2" y1="528.3" x2="303" y2="529.9" stroke="#404040"/><line x1="368.8" y1="538.4" x2="370.1" y2="539.4" stroke="#9a9a9a"/><line x1="356.5" y1="536.3" x2="355.4" y2="538.8" stroke="#333333"/><line x1="283.5" y1="525" x2="286.9" y2="525.3" stroke="#4d4d4d"/><line x1="373.9" y1="538.5" x2="373.9" y2="540.5" stroke="#333333"/><line x1="335.9" y1="537.6" x2="333" y2="538.6" stroke="#d0d0d0"/><line x1="314.6" y1="547.1" x2="315.8" y2="547.8" stroke="#333333"/><line x1="316.8" y1="542.7" x2="314.8" y2="543.4" stroke="#333333"/><line x1="349.2" y1="521.2" x2="351.2" y2="521.3" stroke="#404040"/><line x1="359.6" y1="534.5" x2="360.5" y2="535.1" stroke="#5a5a5a"/><line x1="351.2" y1="522.6" x2="353.7" y2="524.4" stroke="#f0f0f0"/><line x1="304.7" y1="533.1" x2="304.3" y2="534.9" stroke="#262626"/><line x1="316" y1="535.2" x2="315.3" y2="537.4" stroke="#262626"/><line x1="348.2" y1="525.6" x2="351.2" y2="525.9" stroke="#d0d0d0"/><line x1="309.1" y1="539.9" x2="309.3" y2="543.4" stroke="#262626"/><line x1="352.9" y1="540" x2="350.8" y2="541.1" stroke="#404040"/><line x1="308" y1="539.1" x2="308.6" y2="542.5" stroke="#262626"/><line x1="287.2" y1="525.3" x2="287.7" y2="527.5" stroke="#333333"/><line x1="362.3" y1="530.6" x2="360.9" y2="530.7" stroke="#4d4d4d"/><line x1="317.3" y1="534.1" x2="316.9" y2="535.8" stroke="#262626"/><line x1="290.1" y1="535.6" x2="289.9" y2="537.4" stroke="#404040"/><line x1="327.3" y1="546.4" x2="328.2" y2="548.3" stroke="#333333"/><line x1="357.5" y1="535.9" x2="357.8" y2="537.9" stroke="#333333"/><line x1="373.2" y1="528.5" x2="371.5" y2="529.4" stroke="#9a9a9a"/><line x1="279.5" y1="519.9" x2="276.9" y2="520.2" stroke="#5a5a5a"/><line x1="337.1" y1="529" x2="338.3" y2="529.8" stroke="#5a5a5a"/><line x1="361.3" y1="521.3" x2="360.8" y2="522.5" stroke="#5a5a5a"/><line x1="297.1" y1="530.3" x2="298.4" y2="532.3" stroke="#262626"/><line x1="335.5" y1="534.2" x2="337.1" y2="534.9" stroke="#5a5a5a"/><line x1="343.2" y1="534.2" x2="341.3" y2="535.7" stroke="#333333"/><line x1="330.4" y1="541.9" x2="329.8" y2="544.7" stroke="#404040"/><line x1="377.1" y1="535.5" x2="379.5" y2="536.3" stroke="#262626"/><line x1="330.1" y1="541.9" x2="328.8" y2="543.8" stroke="#d0d0d0"/><line x1="301" y1="544.3" x2="301.5" y2="545.3" stroke="#404040"/><line x1="310.3" y1="545.1" x2="307.2" y2="546.1" stroke="#f0f0f0"/><line x1="330.1" y1="540.6" x2="332.2" y2="543.2" stroke="#d0d0d0"/><line x1="343.9" y1="534" x2="342.7" y2="534.6" stroke="#9a9a9a"/><line x1="333.1" y1="540.3" x2="333.3" y2="541.8" stroke="#f0f0f0"/><line x1="310.6" y1="538.8" x2="309.2" y2="539.6" stroke="#9a9a9a"/><line x1="302.7" y1="546.3" x2="303.6" y2="548.4" stroke="#4d4d4d"/><line x1="318.7" y1="538.4" x2="317.8" y2="540.1" stroke="#4d4d4d"/><line x1="334" y1="530.2" x2="332.9" y2="531.2" stroke="#9a9a9a"/></g>
</g>
<polygon points="124,433.8 124,428 126,416 125,404 129,400 126,396 127,384 128,374 125,360 122,352 125,332 124,322 126,310 127,298 129,289 134,288 145,287 146.5,280 147.9,276 149,265.9 153.2,258.5 158.5,253.1 159.6,246.8 172.3,243.6 174.4,234 177.6,228.7 173.4,224.5 173.4,219.2 176.6,213.9 182.9,214.9 185,209.6 186.1,200.1 182.9,193.7 181.9,185.2 178.7,175.6 172.3,170.3 168.1,167.2 170.2,153.4 172.3,144.9 177.6,139.6 175.5,135.3 176.6,130 174.6,124.9 175.9,113.6 175.9,100.5 183,94 190.5,88.4 196.1,79.9 200.8,72.4 201.8,63.1 202.7,49 212.1,41.5 220.5,35 239.2,31.6 265.4,32.2 271,27.5 278.5,26.6 287.9,30.3 297.3,33.1 308.5,37.8 316,36.9 326.3,42.5 337.5,53.7 342,59.3 346.5,67.2 351,73.9 360,73.9 369,68.3 382.5,67.2 398.2,58.2 405,56 416.2,58.2 429.7,67.2 434.2,70.6 440.9,71.7 447.6,77.3 460.2,81.8 484.9,84 502.9,84 514.1,71.7 525.4,62.7 534.4,59.3 547.8,58.2 561.3,53.7 579.3,53.3 601.8,54.8 624.2,61.6 635.5,68.3 653.4,69.4 660.2,60.4 678.1,46.9 693.9,44.7 700.6,36.8 718.6,35.7 727.6,47 741.1,69.4 745.5,89.6 746.9,101.2 748,107.4 756.4,108.5 764.3,110.2 768.8,114.7 774.4,118.1 772.1,121.5 771,132.7 769.9,142.8 772.7,147.3 772.1,152.9 765.4,156.9 758.7,160.8 751.9,165.3 746.3,167.5 737.3,164.7 735.1,167.5 731.7,173.1 728.3,179.9 717,193 710.5,212.5 708.8,228.7 699.1,235.2 697.5,241.7 699.1,248.2 695.8,259.5 682.9,266 676.4,272.5 676.4,280.6 673.1,293.6 671.5,305 660.1,311.5 652,314.7 643.9,321.2 642.3,335.8 637.4,352.1 630.9,368.3 626,378 619.8,386.6 620.8,395.4 607,404.2 605.1,411 604.1,419.9 594.4,426.7 580.7,426.7 579.7,417 571.9,416 566,409.1 565,403.2 554.3,396.4 551.4,392 549.4,394.4 548.4,405.2 538.7,406.2 530.8,406.2 528.9,399.3 522,403.2 516.2,409.1 508.3,413 505.4,424.7 499.6,426.7 489.8,432.6 483.9,438.4 469.6,455.8 458.3,465.5 460,480.1 456.7,496.3 453.4,509.2 443.7,520.5 438.9,525.4 429.2,522.2 427.5,531.9 410,533.6 395.2,535.2 380,537.5 362.8,541.2 345,543.8 330.4,545.3 318,546.8 309,547.4 301,545.2 292.5,539 285,531 279,521 274.5,511 270.5,498 266.5,487 261.5,476 254.5,466 247.5,457.5 241.4,451.5 230.1,441.2 217.1,434.7 200.9,431.5 184.7,430.9 158.8,432.2 133,433.1" fill="none" stroke="#3a3a3a" stroke-width="1.1" stroke-linejoin="round"/>
</g>
<g stroke="#505050" stroke-width="2.6" fill="none">
<path d="M72.7 13.6H787.8" />
<path d="M80.7 13.6V562.8" />
<path d="M787.8 13.6V562.8" />
<path d="M80.7 556.8H210.3 M214.5 556.8H787.8" />
<path d="M72.4 120.5H80.7" />
<path d="M72.4 230.3H80.7" />
<path d="M72.4 338.8H80.7" />
<path d="M72.4 446.2H80.7" />
<path d="M72.4 552.6H80.7" />
<path d="M81 556.8V563.3" />
<path d="M195 556.8V563.3" />
<path d="M309 556.8V563.3" />
<path d="M434 556.8V563.3" />
<path d="M541 556.8V563.3" />
<path d="M648.5 556.8V563.3" />
<path d="M736 556.8V563.3" />
</g>
<g stroke="#505050" stroke-width="2.6" fill="none">
<path d="M917.2 18.2H1632.3" />
<path d="M925.2 18.2V567.4" />
<path d="M1632.3 18.2V567.4" />
<path d="M925.2 561.4H1054.8 M1059 561.4H1632.3" />
<path d="M916.9 125.1H925.2" />
<path d="M916.9 234.9H925.2" />
<path d="M916.9 343.4H925.2" />
<path d="M916.9 450.8H925.2" />
<path d="M916.9 557.2H925.2" />
<path d="M925.5 561.4V567.9" />
<path d="M1039.5 561.4V567.9" />
<path d="M1153.5 561.4V567.9" />
<path d="M1278.5 561.4V567.9" />
<path d="M1385.5 561.4V567.9" />
<path d="M1493 561.4V567.9" />
<path d="M1580.5 561.4V567.9" />
</g>
<g font-family="'Liberation Sans', Arial, sans-serif" font-weight="bold" fill="#000">
<text x="1.5" y="25.3" font-size="27.8" textLength="63.1" lengthAdjust="spacingAndGlyphs">14<tspan font-size="17" dy="-12">O</tspan><tspan dy="12" font-size="27.8">N</tspan></text>
<text x="0.4" y="130.9" font-size="27.8" textLength="64.2" lengthAdjust="spacingAndGlyphs">12<tspan font-size="17" dy="-12">O</tspan><tspan dy="12" font-size="27.8">N</tspan></text>
<text x="0.4" y="240.5" font-size="27.8" textLength="64.2" lengthAdjust="spacingAndGlyphs">10<tspan font-size="17" dy="-12">O</tspan><tspan dy="12" font-size="27.8">N</tspan></text>
<text x="16.2" y="350.9" font-size="27.8" textLength="48.4" lengthAdjust="spacingAndGlyphs">8<tspan font-size="17" dy="-12">O</tspan><tspan dy="12" font-size="27.8">N</tspan></text>
<text x="15.8" y="457.7" font-size="27.8" textLength="48.8" lengthAdjust="spacingAndGlyphs">6<tspan font-size="17" dy="-12">O</tspan><tspan dy="12" font-size="27.8">N</tspan></text>
<text x="16.5" y="563.4" font-size="27.8" textLength="48.1" lengthAdjust="spacingAndGlyphs">4<tspan font-size="17" dy="-12">O</tspan><tspan dy="12" font-size="27.8">N</tspan></text>
<text x="60.1" y="592.4" font-size="27.8" textLength="41.7" lengthAdjust="spacingAndGlyphs">2<tspan font-size="17" dy="-12">O</tspan><tspan dy="12" font-size="27.8">E</tspan></text>
<text x="174.5" y="592.4" font-size="27.8" textLength="43.1" lengthAdjust="spacingAndGlyphs">4<tspan font-size="17" dy="-12">O</tspan><tspan dy="12" font-size="27.8">E</tspan></text>
<text x="285.9" y="592.4" font-size="27.8" textLength="44.1" lengthAdjust="spacingAndGlyphs">6<tspan font-size="17" dy="-12">O</tspan><tspan dy="12" font-size="27.8">E</tspan></text>
<text x="412" y="592.4" font-size="27.8" textLength="43.1" lengthAdjust="spacingAndGlyphs">8<tspan font-size="17" dy="-12">O</tspan><tspan dy="12" font-size="27.8">E</tspan></text>
<text x="517.8" y="592.4" font-size="27.8" textLength="57.7" lengthAdjust="spacingAndGlyphs">10<tspan font-size="17" dy="-12">O</tspan><tspan dy="12" font-size="27.8">E</tspan></text>
<text x="622.3" y="592.4" font-size="27.8" textLength="55.8" lengthAdjust="spacingAndGlyphs">12<tspan font-size="17" dy="-12">O</tspan><tspan dy="12" font-size="27.8">E</tspan></text>
<text x="711.3" y="592.4" font-size="27.8" textLength="54.8" lengthAdjust="spacingAndGlyphs">14<tspan font-size="17" dy="-12">O</tspan><tspan dy="12" font-size="27.8">E</tspan></text>
</g>
<g font-family="'Liberation Sans', Arial, sans-serif" font-weight="bold" fill="#000">
<text x="846" y="29.9" font-size="27.8" textLength="63.1" lengthAdjust="spacingAndGlyphs">14<tspan font-size="17" dy="-12">O</tspan><tspan dy="12" font-size="27.8">N</tspan></text>
<text x="844.9" y="135.5" font-size="27.8" textLength="64.2" lengthAdjust="spacingAndGlyphs">12<tspan font-size="17" dy="-12">O</tspan><tspan dy="12" font-size="27.8">N</tspan></text>
<text x="844.9" y="245.1" font-size="27.8" textLength="64.2" lengthAdjust="spacingAndGlyphs">10<tspan font-size="17" dy="-12">O</tspan><tspan dy="12" font-size="27.8">N</tspan></text>
<text x="860.7" y="355.5" font-size="27.8" textLength="48.4" lengthAdjust="spacingAndGlyphs">8<tspan font-size="17" dy="-12">O</tspan><tspan dy="12" font-size="27.8">N</tspan></text>
<text x="860.3" y="462.3" font-size="27.8" textLength="48.8" lengthAdjust="spacingAndGlyphs">6<tspan font-size="17" dy="-12">O</tspan><tspan dy="12" font-size="27.8">N</tspan></text>
<text x="861" y="568" font-size="27.8" textLength="48.1" lengthAdjust="spacingAndGlyphs">4<tspan font-size="17" dy="-12">O</tspan><tspan dy="12" font-size="27.8">N</tspan></text>
<text x="904.6" y="597" font-size="27.8" textLength="41.7" lengthAdjust="spacingAndGlyphs">2<tspan font-size="17" dy="-12">O</tspan><tspan dy="12" font-size="27.8">E</tspan></text>
<text x="1019" y="597" font-size="27.8" textLength="43.1" lengthAdjust="spacingAndGlyphs">4<tspan font-size="17" dy="-12">O</tspan><tspan dy="12" font-size="27.8">E</tspan></text>
<text x="1130.4" y="597" font-size="27.8" textLength="44.1" lengthAdjust="spacingAndGlyphs">6<tspan font-size="17" dy="-12">O</tspan><tspan dy="12" font-size="27.8">E</tspan></text>
<text x="1256.5" y="597" font-size="27.8" textLength="43.1" lengthAdjust="spacingAndGlyphs">8<tspan font-size="17" dy="-12">O</tspan><tspan dy="12" font-size="27.8">E</tspan></text>
<text x="1362.3" y="597" font-size="27.8" textLength="57.7" lengthAdjust="spacingAndGlyphs">10<tspan font-size="17" dy="-12">O</tspan><tspan dy="12" font-size="27.8">E</tspan></text>
<text x="1466.8" y="597" font-size="27.8" textLength="55.8" lengthAdjust="spacingAndGlyphs">12<tspan font-size="17" dy="-12">O</tspan><tspan dy="12" font-size="27.8">E</tspan></text>
<text x="1555.8" y="597" font-size="27.8" textLength="54.8" lengthAdjust="spacingAndGlyphs">14<tspan font-size="17" dy="-12">O</tspan><tspan dy="12" font-size="27.8">E</tspan></text>
</g>
<g font-family="'Liberation Sans', Arial, sans-serif" font-weight="bold" fill="#000">
<text x="191.6" y="642" font-size="35.5" textLength="470.5" lengthAdjust="spacingAndGlyphs">Mean Annual Rainfall (mm/Yr)</text>
<text x="952.6" y="646" font-size="35" textLength="574" lengthAdjust="spacingAndGlyphs">Mean Annual Temperature Average (</text>
<text x="1528" y="633.3" font-size="25" textLength="15" lengthAdjust="spacingAndGlyphs">O</text>
<text x="1547.5" y="646" font-size="35" textLength="29" lengthAdjust="spacingAndGlyphs">C)</text>
<text transform="translate(268.8 784.1) rotate(-90)" font-size="35" textLength="61.1" lengthAdjust="spacingAndGlyphs">468</text>
<text transform="translate(338.8 784.1) rotate(-90)" font-size="35" textLength="60.5" lengthAdjust="spacingAndGlyphs">785</text>
<text transform="translate(411.9 799.2) rotate(-90)" font-size="35" textLength="78.8" lengthAdjust="spacingAndGlyphs">1220</text>
<text transform="translate(488.9 799.2) rotate(-90)" font-size="35" textLength="78.8" lengthAdjust="spacingAndGlyphs">1650</text>
<text transform="translate(561.4 798.6) rotate(-90)" font-size="35" textLength="80.1" lengthAdjust="spacingAndGlyphs">2250</text>
<text transform="translate(990.2 790.4) rotate(-90)" font-size="34" textLength="72.8" lengthAdjust="spacingAndGlyphs">20.4</text>
<text transform="translate(1058.2 791.4) rotate(-90)" font-size="34" textLength="69.9" lengthAdjust="spacingAndGlyphs">21.5</text>
<text transform="translate(1133.4 791.4) rotate(-90)" font-size="34" textLength="69.9" lengthAdjust="spacingAndGlyphs">22.5</text>
<text transform="translate(1205.3 791.4) rotate(-90)" font-size="34" textLength="69.9" lengthAdjust="spacingAndGlyphs">23.5</text>
<text transform="translate(1278 791.4) rotate(-90)" font-size="34" textLength="69.9" lengthAdjust="spacingAndGlyphs">24.5</text>
<text transform="translate(1352.3 791.4) rotate(-90)" font-size="34" textLength="69.9" lengthAdjust="spacingAndGlyphs">25.5</text>
<text transform="translate(1421.2 791.4) rotate(-90)" font-size="34" textLength="69.9" lengthAdjust="spacingAndGlyphs">26.5</text>
<text transform="translate(1489.1 791.4) rotate(-90)" font-size="34" textLength="69.9" lengthAdjust="spacingAndGlyphs">28.0</text>
<text transform="translate(1562.4 791.4) rotate(-90)" font-size="34" textLength="69.9" lengthAdjust="spacingAndGlyphs">28.9</text>
</g>
<rect x="257.4" y="656.9" width="73.4" height="49.4" fill="#ff2200"/>
<rect x="330.5" y="656.9" width="72.6" height="49.4" fill="#ff9900"/>
<rect x="402.8" y="656.9" width="73.3" height="49.4" fill="#ffff00"/>
<rect x="475.8" y="656.9" width="72.3" height="49.4" fill="#77aa00"/>
<rect x="547.8" y="656.9" width="72.5" height="49.4" fill="#006000"/>
<rect x="977.4" y="658.2" width="72.7" height="49.3" fill="#fffd7a"/>
<rect x="1049.8" y="658.2" width="72.6" height="49.3" fill="#fde264"/>
<rect x="1122.1" y="658.2" width="72.4" height="49.3" fill="#face50"/>
<rect x="1194.2" y="658.2" width="73.1" height="49.3" fill="#f2af3a"/>
<rect x="1267" y="658.2" width="73.4" height="49.3" fill="#e19128"/>
<rect x="1340.1" y="658.2" width="70.6" height="49.3" fill="#b65d1d"/>
<rect x="1410.4" y="658.2" width="71.1" height="49.3" fill="#94340c"/>
<rect x="1481.2" y="658.2" width="72.4" height="49.3" fill="#6e0000"/>
</g></svg>
</body></html>
